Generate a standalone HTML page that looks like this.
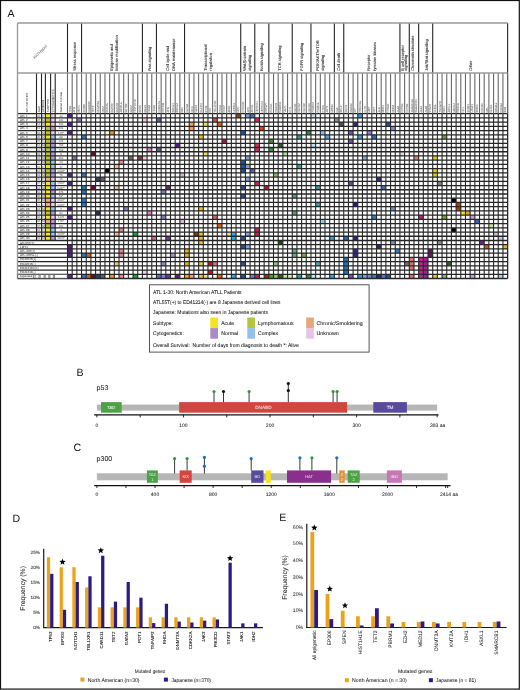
<!DOCTYPE html><html><head><meta charset="utf-8"><style>html,body{margin:0;padding:0;background:#fff;}svg{display:block;will-change:transform;text-rendering:geometricPrecision}</style></head><body>
<svg width="520" height="690" viewBox="0 0 520 690" font-family="Liberation Sans, sans-serif">
<rect x="0" y="0" width="520" height="690" fill="#fff"/>
<text x="7.6" y="16.9" font-size="10.6" fill="#111">A</text>
<rect x="45.40" y="113.70" width="5.20" height="4.23" fill="#f6e60c"/>
<rect x="50.60" y="113.70" width="4.60" height="4.23" fill="#f4c6ea"/>
<rect x="45.40" y="117.93" width="5.20" height="4.23" fill="#b4c42a"/>
<rect x="50.60" y="117.93" width="4.60" height="4.23" fill="#f4c6ea"/>
<rect x="45.40" y="122.15" width="5.20" height="4.23" fill="#f6e60c"/>
<rect x="50.60" y="122.15" width="4.60" height="4.23" fill="#f4c6ea"/>
<rect x="45.40" y="126.38" width="5.20" height="4.23" fill="#b4c42a"/>
<rect x="50.60" y="126.38" width="4.60" height="4.23" fill="#b698dc"/>
<rect x="45.40" y="130.60" width="5.20" height="4.23" fill="#b4c42a"/>
<rect x="50.60" y="130.60" width="4.60" height="4.23" fill="#f4c6ea"/>
<rect x="45.40" y="134.83" width="5.20" height="4.23" fill="#f6e60c"/>
<rect x="50.60" y="134.83" width="4.60" height="4.23" fill="#94c8f6"/>
<rect x="45.40" y="139.06" width="5.20" height="4.23" fill="#b4c42a"/>
<rect x="50.60" y="139.06" width="4.60" height="4.23" fill="#b698dc"/>
<rect x="45.40" y="143.28" width="5.20" height="4.23" fill="#b4c42a"/>
<rect x="50.60" y="143.28" width="4.60" height="4.23" fill="#b698dc"/>
<rect x="45.40" y="147.51" width="5.20" height="4.23" fill="#b4c42a"/>
<rect x="50.60" y="147.51" width="4.60" height="4.23" fill="#94c8f6"/>
<rect x="45.40" y="151.73" width="5.20" height="4.23" fill="#b4c42a"/>
<rect x="50.60" y="151.73" width="4.60" height="4.23" fill="#b698dc"/>
<rect x="45.40" y="155.96" width="5.20" height="4.23" fill="#b4c42a"/>
<rect x="50.60" y="155.96" width="4.60" height="4.23" fill="#b698dc"/>
<rect x="45.40" y="160.19" width="5.20" height="4.23" fill="#b4c42a"/>
<rect x="50.60" y="160.19" width="4.60" height="4.23" fill="#94c8f6"/>
<rect x="45.40" y="164.41" width="5.20" height="4.23" fill="#f6e60c"/>
<rect x="50.60" y="164.41" width="4.60" height="4.23" fill="#94c8f6"/>
<rect x="45.40" y="168.64" width="5.20" height="4.23" fill="#b4c42a"/>
<rect x="50.60" y="168.64" width="4.60" height="4.23" fill="#b698dc"/>
<rect x="45.40" y="172.86" width="5.20" height="4.23" fill="#b4c42a"/>
<rect x="50.60" y="172.86" width="4.60" height="4.23" fill="#b698dc"/>
<rect x="45.40" y="177.09" width="5.20" height="4.23" fill="#f0a884"/>
<rect x="50.60" y="177.09" width="4.60" height="4.23" fill="#f4c6ea"/>
<rect x="45.40" y="181.32" width="5.20" height="4.23" fill="#f6e60c"/>
<rect x="50.60" y="181.32" width="4.60" height="4.23" fill="#94c8f6"/>
<rect x="45.40" y="185.54" width="5.20" height="4.23" fill="#f6e60c"/>
<rect x="50.60" y="185.54" width="4.60" height="4.23" fill="#94c8f6"/>
<rect x="45.40" y="189.77" width="5.20" height="4.23" fill="#f6e60c"/>
<rect x="50.60" y="189.77" width="4.60" height="4.23" fill="#b698dc"/>
<rect x="45.40" y="193.99" width="5.20" height="4.23" fill="#f6e60c"/>
<rect x="50.60" y="193.99" width="4.60" height="4.23" fill="#94c8f6"/>
<rect x="45.40" y="198.22" width="5.20" height="4.23" fill="#f0a884"/>
<rect x="50.60" y="198.22" width="4.60" height="4.23" fill="#f4c6ea"/>
<rect x="45.40" y="202.45" width="5.20" height="4.23" fill="#f0a884"/>
<rect x="50.60" y="202.45" width="4.60" height="4.23" fill="#f4c6ea"/>
<rect x="45.40" y="206.67" width="5.20" height="4.23" fill="#f6e60c"/>
<rect x="50.60" y="206.67" width="4.60" height="4.23" fill="#94c8f6"/>
<rect x="45.40" y="210.90" width="5.20" height="4.23" fill="#b4c42a"/>
<rect x="50.60" y="210.90" width="4.60" height="4.23" fill="#b698dc"/>
<rect x="45.40" y="215.12" width="5.20" height="4.23" fill="#f6e60c"/>
<rect x="50.60" y="215.12" width="4.60" height="4.23" fill="#f4c6ea"/>
<rect x="45.40" y="219.35" width="5.20" height="4.23" fill="#f0a884"/>
<rect x="50.60" y="219.35" width="4.60" height="4.23" fill="#b698dc"/>
<rect x="45.40" y="223.58" width="5.20" height="4.23" fill="#b4c42a"/>
<rect x="50.60" y="223.58" width="4.60" height="4.23" fill="#b698dc"/>
<rect x="45.40" y="227.80" width="5.20" height="4.23" fill="#f6e60c"/>
<rect x="50.60" y="227.80" width="4.60" height="4.23" fill="#94c8f6"/>
<rect x="45.40" y="232.03" width="5.20" height="4.23" fill="#f6e60c"/>
<rect x="50.60" y="232.03" width="4.60" height="4.23" fill="#94c8f6"/>
<rect x="45.40" y="236.25" width="5.20" height="4.23" fill="#f6e60c"/>
<rect x="50.60" y="236.25" width="4.60" height="4.23" fill="#b698dc"/>
<rect x="67.50" y="113.70" width="4.68" height="4.23" fill="#53248a"/>
<rect x="76.86" y="117.93" width="4.68" height="4.23" fill="#8a6cc0"/>
<rect x="67.50" y="122.15" width="4.68" height="4.23" fill="#53248a"/>
<rect x="67.50" y="130.60" width="4.68" height="4.23" fill="#53248a"/>
<rect x="109.64" y="130.60" width="4.68" height="4.23" fill="#f0901e"/>
<rect x="81.55" y="134.83" width="4.68" height="4.23" fill="#2a78c8"/>
<rect x="90.91" y="151.73" width="4.68" height="4.23" fill="#6a0a30"/>
<rect x="72.18" y="155.96" width="4.68" height="4.23" fill="#9060b8"/>
<rect x="128.37" y="155.96" width="4.68" height="4.23" fill="#6e6a4a"/>
<rect x="137.73" y="155.96" width="4.68" height="4.23" fill="#94344c"/>
<rect x="119.00" y="160.19" width="4.68" height="4.23" fill="#e88898"/>
<rect x="114.32" y="164.41" width="4.68" height="4.23" fill="#f8c080"/>
<rect x="142.41" y="117.93" width="4.68" height="4.23" fill="#f8c8e0"/>
<rect x="156.46" y="117.93" width="4.68" height="4.23" fill="#5060a8"/>
<rect x="212.64" y="117.93" width="4.68" height="4.23" fill="#d05050"/>
<rect x="189.23" y="122.15" width="4.68" height="4.23" fill="#f0a060"/>
<rect x="189.23" y="126.38" width="4.68" height="4.23" fill="#f0a060"/>
<rect x="203.28" y="122.15" width="4.68" height="4.23" fill="#f0e060"/>
<rect x="198.60" y="134.83" width="4.68" height="4.23" fill="#f0c020"/>
<rect x="175.19" y="143.28" width="4.68" height="4.23" fill="#5a1a8a"/>
<rect x="147.09" y="147.51" width="4.68" height="4.23" fill="#e080b8"/>
<rect x="156.46" y="147.51" width="4.68" height="4.23" fill="#5060a8"/>
<rect x="203.28" y="151.73" width="4.68" height="4.23" fill="#f0e060"/>
<rect x="142.41" y="155.96" width="4.68" height="4.23" fill="#f8c8e0"/>
<rect x="236.05" y="113.70" width="4.68" height="4.23" fill="#a04010"/>
<rect x="245.42" y="113.70" width="4.68" height="4.23" fill="#7aa0e0"/>
<rect x="250.10" y="113.70" width="4.68" height="4.23" fill="#5070c0"/>
<rect x="254.78" y="117.93" width="4.68" height="4.23" fill="#d0305a"/>
<rect x="217.32" y="122.15" width="4.68" height="4.23" fill="#e06010"/>
<rect x="259.46" y="126.38" width="4.68" height="4.23" fill="#e04010"/>
<rect x="240.73" y="130.60" width="4.68" height="4.23" fill="#2050b0"/>
<rect x="222.01" y="139.06" width="4.68" height="4.23" fill="#b01040"/>
<rect x="268.83" y="139.06" width="4.68" height="4.23" fill="#4a8a30"/>
<rect x="254.78" y="143.28" width="4.68" height="4.23" fill="#d0305a"/>
<rect x="278.19" y="143.28" width="4.68" height="4.23" fill="#2a5a20"/>
<rect x="254.78" y="147.51" width="4.68" height="4.23" fill="#d0305a"/>
<rect x="268.83" y="147.51" width="4.68" height="4.23" fill="#4a8a30"/>
<rect x="282.87" y="151.73" width="4.68" height="4.23" fill="#b0e0a0"/>
<rect x="245.42" y="155.96" width="4.68" height="4.23" fill="#7aa0e0"/>
<rect x="240.73" y="160.19" width="4.68" height="4.23" fill="#2050b0"/>
<rect x="287.55" y="160.19" width="4.68" height="4.23" fill="#d8f0d0"/>
<rect x="240.73" y="164.41" width="4.68" height="4.23" fill="#2050b0"/>
<rect x="245.42" y="164.41" width="4.68" height="4.23" fill="#7aa0e0"/>
<rect x="310.96" y="113.70" width="4.68" height="4.23" fill="#c0e0f8"/>
<rect x="357.78" y="113.70" width="4.68" height="4.23" fill="#30a0e0"/>
<rect x="334.37" y="117.93" width="4.68" height="4.23" fill="#909090"/>
<rect x="339.06" y="122.15" width="4.68" height="4.23" fill="#505050"/>
<rect x="353.10" y="122.15" width="4.68" height="4.23" fill="#302080"/>
<rect x="306.28" y="130.60" width="4.68" height="4.23" fill="#209040"/>
<rect x="320.33" y="130.60" width="4.68" height="4.23" fill="#90c0f0"/>
<rect x="348.42" y="130.60" width="4.68" height="4.23" fill="#7050b0"/>
<rect x="296.92" y="134.83" width="4.68" height="4.23" fill="#30a090"/>
<rect x="325.01" y="134.83" width="4.68" height="4.23" fill="#50a8e0"/>
<rect x="357.78" y="134.83" width="4.68" height="4.23" fill="#30a0e0"/>
<rect x="348.42" y="139.06" width="4.68" height="4.23" fill="#7050b0"/>
<rect x="310.96" y="143.28" width="4.68" height="4.23" fill="#c0e0f8"/>
<rect x="362.47" y="155.96" width="4.68" height="4.23" fill="#80a0e0"/>
<rect x="296.92" y="164.41" width="4.68" height="4.23" fill="#30a090"/>
<rect x="385.88" y="122.15" width="4.68" height="4.23" fill="#2050a0"/>
<rect x="390.56" y="126.38" width="4.68" height="4.23" fill="#8090c0"/>
<rect x="367.15" y="130.60" width="4.68" height="4.23" fill="#9080d0"/>
<rect x="371.83" y="134.83" width="4.68" height="4.23" fill="#3070c0"/>
<rect x="442.06" y="134.83" width="4.68" height="4.23" fill="#70a030"/>
<rect x="399.92" y="151.73" width="4.68" height="4.23" fill="#e0e0e0"/>
<rect x="413.97" y="155.96" width="4.68" height="4.23" fill="#f08050"/>
<rect x="432.70" y="155.96" width="4.68" height="4.23" fill="#e0d010"/>
<rect x="104.96" y="168.64" width="4.68" height="4.23" fill="#000000"/>
<rect x="67.50" y="172.86" width="4.68" height="4.23" fill="#53248a"/>
<rect x="81.55" y="172.86" width="4.68" height="4.23" fill="#2a78c8"/>
<rect x="95.59" y="177.09" width="4.68" height="4.23" fill="#304060"/>
<rect x="100.27" y="177.09" width="4.68" height="4.23" fill="#606060"/>
<rect x="67.50" y="181.32" width="4.68" height="4.23" fill="#53248a"/>
<rect x="81.55" y="185.54" width="4.68" height="4.23" fill="#2a78c8"/>
<rect x="90.91" y="185.54" width="4.68" height="4.23" fill="#6a0a30"/>
<rect x="114.32" y="185.54" width="4.68" height="4.23" fill="#f8c080"/>
<rect x="81.55" y="189.77" width="4.68" height="4.23" fill="#2a78c8"/>
<rect x="81.55" y="198.22" width="4.68" height="4.23" fill="#2a78c8"/>
<rect x="81.55" y="202.45" width="4.68" height="4.23" fill="#2a78c8"/>
<rect x="67.50" y="206.67" width="4.68" height="4.23" fill="#53248a"/>
<rect x="123.68" y="206.67" width="4.68" height="4.23" fill="#8080d0"/>
<rect x="95.59" y="210.90" width="4.68" height="4.23" fill="#203050"/>
<rect x="67.50" y="215.12" width="4.68" height="4.23" fill="#53248a"/>
<rect x="179.87" y="172.86" width="4.68" height="4.23" fill="#e0b0e0"/>
<rect x="165.82" y="185.54" width="4.68" height="4.23" fill="#702080"/>
<rect x="161.14" y="189.77" width="4.68" height="4.23" fill="#7080c8"/>
<rect x="198.60" y="206.67" width="4.68" height="4.23" fill="#f0c020"/>
<rect x="147.09" y="210.90" width="4.68" height="4.23" fill="#e080c0"/>
<rect x="161.14" y="215.12" width="4.68" height="4.23" fill="#7080c8"/>
<rect x="212.64" y="215.12" width="4.68" height="4.23" fill="#e06060"/>
<rect x="179.87" y="219.35" width="4.68" height="4.23" fill="#e0b0e0"/>
<rect x="240.73" y="168.64" width="4.68" height="4.23" fill="#2050a0"/>
<rect x="250.10" y="168.64" width="4.68" height="4.23" fill="#5060c0"/>
<rect x="273.51" y="172.86" width="4.68" height="4.23" fill="#80c060"/>
<rect x="245.42" y="177.09" width="4.68" height="4.23" fill="#80a8e8"/>
<rect x="254.78" y="181.32" width="4.68" height="4.23" fill="#d02050"/>
<rect x="240.73" y="185.54" width="4.68" height="4.23" fill="#2050a0"/>
<rect x="264.14" y="185.54" width="4.68" height="4.23" fill="#d01010"/>
<rect x="240.73" y="193.99" width="4.68" height="4.23" fill="#2050a0"/>
<rect x="348.42" y="181.32" width="4.68" height="4.23" fill="#7040b0"/>
<rect x="315.65" y="185.54" width="4.68" height="4.23" fill="#30a0a0"/>
<rect x="292.24" y="193.99" width="4.68" height="4.23" fill="#50a070"/>
<rect x="315.65" y="202.45" width="4.68" height="4.23" fill="#30a0a0"/>
<rect x="353.10" y="202.45" width="4.68" height="4.23" fill="#201880"/>
<rect x="292.24" y="210.90" width="4.68" height="4.23" fill="#50a070"/>
<rect x="320.33" y="219.35" width="4.68" height="4.23" fill="#90c8f8"/>
<rect x="432.70" y="168.64" width="4.68" height="4.23" fill="#e0d010"/>
<rect x="432.70" y="172.86" width="4.68" height="4.23" fill="#e0d010"/>
<rect x="376.51" y="177.09" width="4.68" height="4.23" fill="#302090"/>
<rect x="437.38" y="181.32" width="4.68" height="4.23" fill="#808080"/>
<rect x="381.19" y="185.54" width="4.68" height="4.23" fill="#4070c0"/>
<rect x="399.92" y="202.45" width="4.68" height="4.23" fill="#e0e0e0"/>
<rect x="390.56" y="206.67" width="4.68" height="4.23" fill="#8090c0"/>
<rect x="371.83" y="215.12" width="4.68" height="4.23" fill="#3080d0"/>
<rect x="418.65" y="215.12" width="4.68" height="4.23" fill="#c01880"/>
<rect x="442.06" y="215.12" width="4.68" height="4.23" fill="#70a030"/>
<rect x="451.42" y="198.22" width="4.68" height="4.23" fill="#000000"/>
<rect x="456.11" y="202.45" width="4.68" height="4.23" fill="#a04010"/>
<rect x="456.11" y="206.67" width="4.68" height="4.23" fill="#a04010"/>
<rect x="460.79" y="210.90" width="4.68" height="4.23" fill="#f0e020"/>
<rect x="465.47" y="210.90" width="4.68" height="4.23" fill="#f0a020"/>
<rect x="470.15" y="215.12" width="4.68" height="4.23" fill="#c0a0e0"/>
<rect x="474.83" y="219.35" width="4.68" height="4.23" fill="#3060c0"/>
<rect x="119.00" y="227.80" width="4.68" height="4.23" fill="#e88090"/>
<rect x="114.32" y="232.03" width="4.68" height="4.23" fill="#f8c080"/>
<rect x="133.05" y="232.03" width="4.68" height="4.23" fill="#20a040"/>
<rect x="67.50" y="244.71" width="4.68" height="4.23" fill="#53248a"/>
<rect x="67.50" y="248.93" width="4.68" height="4.23" fill="#53248a"/>
<rect x="119.00" y="248.93" width="4.68" height="4.23" fill="#e88090"/>
<rect x="67.50" y="253.16" width="4.68" height="4.23" fill="#53248a"/>
<rect x="81.55" y="253.16" width="4.68" height="4.23" fill="#2a78c8"/>
<rect x="86.23" y="253.16" width="4.68" height="4.23" fill="#e06010"/>
<rect x="119.00" y="253.16" width="4.68" height="4.23" fill="#e88090"/>
<rect x="114.32" y="261.61" width="4.68" height="4.23" fill="#f8c080"/>
<rect x="67.50" y="274.29" width="4.68" height="4.23" fill="#53248a"/>
<rect x="81.55" y="274.29" width="4.68" height="4.23" fill="#2a78c8"/>
<rect x="86.23" y="274.29" width="4.68" height="4.23" fill="#e06010"/>
<rect x="90.91" y="274.29" width="4.68" height="4.23" fill="#6a0a30"/>
<rect x="95.59" y="274.29" width="4.68" height="4.23" fill="#304060"/>
<rect x="100.27" y="274.29" width="4.68" height="4.23" fill="#606060"/>
<rect x="109.64" y="274.29" width="4.68" height="4.23" fill="#f0a020"/>
<rect x="119.00" y="274.29" width="4.68" height="4.23" fill="#e88090"/>
<rect x="133.05" y="274.29" width="4.68" height="4.23" fill="#20a040"/>
<rect x="193.91" y="232.03" width="4.68" height="4.23" fill="#903010"/>
<rect x="198.60" y="232.03" width="4.68" height="4.23" fill="#f0c030"/>
<rect x="151.78" y="236.25" width="4.68" height="4.23" fill="#e060a0"/>
<rect x="165.82" y="236.25" width="4.68" height="4.23" fill="#8030a0"/>
<rect x="198.60" y="236.25" width="4.68" height="4.23" fill="#f0c030"/>
<rect x="198.60" y="240.48" width="4.68" height="4.23" fill="#f0c030"/>
<rect x="184.55" y="248.93" width="4.68" height="4.23" fill="#f0b010"/>
<rect x="170.50" y="253.16" width="4.68" height="4.23" fill="#b090d8"/>
<rect x="184.55" y="253.16" width="4.68" height="4.23" fill="#f0b010"/>
<rect x="161.14" y="261.61" width="4.68" height="4.23" fill="#8088d8"/>
<rect x="184.55" y="261.61" width="4.68" height="4.23" fill="#f0b010"/>
<rect x="198.60" y="261.61" width="4.68" height="4.23" fill="#f0c840"/>
<rect x="207.96" y="261.61" width="4.68" height="4.23" fill="#d01010"/>
<rect x="212.64" y="261.61" width="4.68" height="4.23" fill="#e07070"/>
<rect x="142.41" y="270.06" width="4.68" height="4.23" fill="#f8c8e0"/>
<rect x="207.96" y="270.06" width="4.68" height="4.23" fill="#d01010"/>
<rect x="156.46" y="274.29" width="4.68" height="4.23" fill="#6070c0"/>
<rect x="161.14" y="274.29" width="4.68" height="4.23" fill="#8088d8"/>
<rect x="165.82" y="274.29" width="4.68" height="4.23" fill="#8030a0"/>
<rect x="175.19" y="274.29" width="4.68" height="4.23" fill="#5a1a8a"/>
<rect x="184.55" y="274.29" width="4.68" height="4.23" fill="#f0b010"/>
<rect x="189.23" y="274.29" width="4.68" height="4.23" fill="#f0a070"/>
<rect x="198.60" y="274.29" width="4.68" height="4.23" fill="#f0c840"/>
<rect x="203.28" y="274.29" width="4.68" height="4.23" fill="#f0e080"/>
<rect x="217.32" y="223.58" width="4.68" height="4.23" fill="#e06010"/>
<rect x="254.78" y="227.80" width="4.68" height="4.23" fill="#d02050"/>
<rect x="226.69" y="232.03" width="4.68" height="4.23" fill="#f8e090"/>
<rect x="231.37" y="232.03" width="4.68" height="4.23" fill="#30a8e8"/>
<rect x="245.42" y="232.03" width="4.68" height="4.23" fill="#80a8e8"/>
<rect x="254.78" y="232.03" width="4.68" height="4.23" fill="#d02050"/>
<rect x="231.37" y="236.25" width="4.68" height="4.23" fill="#30a8e8"/>
<rect x="240.73" y="236.25" width="4.68" height="4.23" fill="#2050a0"/>
<rect x="278.19" y="240.48" width="4.68" height="4.23" fill="#204a10"/>
<rect x="240.73" y="244.71" width="4.68" height="4.23" fill="#2050a0"/>
<rect x="245.42" y="244.71" width="4.68" height="4.23" fill="#80a8e8"/>
<rect x="240.73" y="261.61" width="4.68" height="4.23" fill="#2050a0"/>
<rect x="273.51" y="261.61" width="4.68" height="4.23" fill="#90c870"/>
<rect x="217.32" y="274.29" width="4.68" height="4.23" fill="#e06010"/>
<rect x="231.37" y="274.29" width="4.68" height="4.23" fill="#30a8e8"/>
<rect x="240.73" y="274.29" width="4.68" height="4.23" fill="#2050a0"/>
<rect x="250.10" y="274.29" width="4.68" height="4.23" fill="#7080d0"/>
<rect x="254.78" y="274.29" width="4.68" height="4.23" fill="#d02050"/>
<rect x="264.14" y="274.29" width="4.68" height="4.23" fill="#d01010"/>
<rect x="268.83" y="274.29" width="4.68" height="4.23" fill="#50a030"/>
<rect x="273.51" y="274.29" width="4.68" height="4.23" fill="#90c870"/>
<rect x="278.19" y="274.29" width="4.68" height="4.23" fill="#2a5a20"/>
<rect x="282.87" y="274.29" width="4.68" height="4.23" fill="#c0e8a0"/>
<rect x="287.55" y="274.29" width="4.68" height="4.23" fill="#d0f0c0"/>
<rect x="329.69" y="236.25" width="4.68" height="4.23" fill="#30a8e8"/>
<rect x="343.74" y="236.25" width="4.68" height="4.23" fill="#2070c8"/>
<rect x="353.10" y="236.25" width="4.68" height="4.23" fill="#302090"/>
<rect x="292.24" y="248.93" width="4.68" height="4.23" fill="#60b080"/>
<rect x="353.10" y="248.93" width="4.68" height="4.23" fill="#302090"/>
<rect x="292.24" y="253.16" width="4.68" height="4.23" fill="#60b080"/>
<rect x="301.60" y="253.16" width="4.68" height="4.23" fill="#80b030"/>
<rect x="353.10" y="253.16" width="4.68" height="4.23" fill="#302090"/>
<rect x="343.74" y="257.38" width="4.68" height="4.23" fill="#2070c8"/>
<rect x="315.65" y="261.61" width="4.68" height="4.23" fill="#40b0b0"/>
<rect x="343.74" y="261.61" width="4.68" height="4.23" fill="#2070c8"/>
<rect x="343.74" y="265.84" width="4.68" height="4.23" fill="#2070c8"/>
<rect x="343.74" y="270.06" width="4.68" height="4.23" fill="#2070c8"/>
<rect x="296.92" y="274.29" width="4.68" height="4.23" fill="#30a090"/>
<rect x="306.28" y="274.29" width="4.68" height="4.23" fill="#209040"/>
<rect x="310.96" y="274.29" width="4.68" height="4.23" fill="#c8e4f8"/>
<rect x="329.69" y="274.29" width="4.68" height="4.23" fill="#30a8e8"/>
<rect x="348.42" y="274.29" width="4.68" height="4.23" fill="#7050b0"/>
<rect x="357.78" y="274.29" width="4.68" height="4.23" fill="#30a0e0"/>
<rect x="362.47" y="274.29" width="4.68" height="4.23" fill="#80a0e0"/>
<rect x="390.56" y="240.48" width="4.68" height="4.23" fill="#8098c8"/>
<rect x="437.38" y="240.48" width="4.68" height="4.23" fill="#909090"/>
<rect x="376.51" y="244.71" width="4.68" height="4.23" fill="#302090"/>
<rect x="395.24" y="248.93" width="4.68" height="4.23" fill="#3080d0"/>
<rect x="428.01" y="248.93" width="4.68" height="4.23" fill="#701070"/>
<rect x="428.01" y="253.16" width="4.68" height="4.23" fill="#701070"/>
<rect x="409.29" y="257.38" width="4.68" height="4.23" fill="#e07070"/>
<rect x="409.29" y="261.61" width="4.68" height="4.23" fill="#e07070"/>
<rect x="409.29" y="265.84" width="4.68" height="4.23" fill="#e07070"/>
<rect x="418.65" y="257.38" width="4.68" height="4.23" fill="#c02890"/>
<rect x="418.65" y="261.61" width="4.68" height="4.23" fill="#c02890"/>
<rect x="418.65" y="265.84" width="4.68" height="4.23" fill="#c02890"/>
<rect x="418.65" y="270.06" width="4.68" height="4.23" fill="#c02890"/>
<rect x="423.33" y="257.38" width="4.68" height="4.23" fill="#a02090"/>
<rect x="423.33" y="261.61" width="4.68" height="4.23" fill="#a02090"/>
<rect x="423.33" y="265.84" width="4.68" height="4.23" fill="#a02090"/>
<rect x="423.33" y="270.06" width="4.68" height="4.23" fill="#a02090"/>
<rect x="404.60" y="261.61" width="4.68" height="4.23" fill="#707070"/>
<rect x="367.15" y="274.29" width="4.68" height="4.23" fill="#8080d8"/>
<rect x="371.83" y="274.29" width="4.68" height="4.23" fill="#3080d0"/>
<rect x="376.51" y="274.29" width="4.68" height="4.23" fill="#302090"/>
<rect x="381.19" y="274.29" width="4.68" height="4.23" fill="#6070c8"/>
<rect x="385.88" y="274.29" width="4.68" height="4.23" fill="#2050a0"/>
<rect x="409.29" y="274.29" width="4.68" height="4.23" fill="#e07070"/>
<rect x="418.65" y="274.29" width="4.68" height="4.23" fill="#c02890"/>
<rect x="423.33" y="274.29" width="4.68" height="4.23" fill="#a02090"/>
<rect x="432.70" y="274.29" width="4.68" height="4.23" fill="#e0d010"/>
<rect x="488.88" y="223.58" width="4.68" height="4.23" fill="#c0e8a8"/>
<rect x="451.42" y="227.80" width="4.68" height="4.23" fill="#000000"/>
<rect x="493.56" y="232.03" width="4.68" height="4.23" fill="#c8c8c8"/>
<rect x="498.24" y="236.25" width="4.68" height="4.23" fill="#b0d0f0"/>
<rect x="479.52" y="240.48" width="4.68" height="4.23" fill="#7020a0"/>
<rect x="484.20" y="244.71" width="4.68" height="4.23" fill="#e05010"/>
<rect x="502.93" y="244.71" width="4.68" height="4.23" fill="#f0b020"/>
<rect x="446.74" y="261.61" width="4.68" height="4.23" fill="#306020"/>
<rect x="442.06" y="274.29" width="4.68" height="4.23" fill="#80c040"/>
<rect x="470.15" y="274.29" width="4.68" height="4.23" fill="#c0a0e0"/>
<rect x="498.24" y="274.29" width="4.68" height="4.23" fill="#b0d0f0"/>
<g stroke="#262626" stroke-width="1.1" fill="none">
<line x1="67.50" y1="23.00" x2="67.50" y2="73.00"/>
<line x1="81.55" y1="23.00" x2="81.55" y2="73.00"/>
<line x1="142.41" y1="23.00" x2="142.41" y2="73.00"/>
<line x1="156.46" y1="23.00" x2="156.46" y2="73.00"/>
<line x1="184.55" y1="23.00" x2="184.55" y2="73.00"/>
<line x1="240.73" y1="23.00" x2="240.73" y2="73.00"/>
<line x1="254.78" y1="23.00" x2="254.78" y2="73.00"/>
<line x1="268.83" y1="23.00" x2="268.83" y2="73.00"/>
<line x1="292.24" y1="23.00" x2="292.24" y2="73.00"/>
<line x1="310.96" y1="23.00" x2="310.96" y2="73.00"/>
<line x1="334.37" y1="23.00" x2="334.37" y2="73.00"/>
<line x1="343.74" y1="23.00" x2="343.74" y2="73.00"/>
<line x1="399.92" y1="23.00" x2="399.92" y2="73.00"/>
<line x1="409.29" y1="23.00" x2="409.29" y2="73.00"/>
<line x1="418.65" y1="23.00" x2="418.65" y2="73.00"/>
<line x1="432.70" y1="23.00" x2="432.70" y2="73.00"/>
<line x1="507.61" y1="23.00" x2="507.61" y2="278.51"/>
<line x1="67.50" y1="113.70" x2="67.50" y2="278.51"/>
<line x1="72.18" y1="113.70" x2="72.18" y2="278.51"/>
<line x1="76.86" y1="113.70" x2="76.86" y2="278.51"/>
<line x1="81.55" y1="113.70" x2="81.55" y2="278.51"/>
<line x1="86.23" y1="113.70" x2="86.23" y2="278.51"/>
<line x1="90.91" y1="113.70" x2="90.91" y2="278.51"/>
<line x1="95.59" y1="113.70" x2="95.59" y2="278.51"/>
<line x1="100.27" y1="113.70" x2="100.27" y2="278.51"/>
<line x1="104.96" y1="113.70" x2="104.96" y2="278.51"/>
<line x1="109.64" y1="113.70" x2="109.64" y2="278.51"/>
<line x1="114.32" y1="113.70" x2="114.32" y2="278.51"/>
<line x1="119.00" y1="113.70" x2="119.00" y2="278.51"/>
<line x1="123.68" y1="113.70" x2="123.68" y2="278.51"/>
<line x1="128.37" y1="113.70" x2="128.37" y2="278.51"/>
<line x1="133.05" y1="113.70" x2="133.05" y2="278.51"/>
<line x1="137.73" y1="113.70" x2="137.73" y2="278.51"/>
<line x1="142.41" y1="113.70" x2="142.41" y2="278.51"/>
<line x1="147.09" y1="113.70" x2="147.09" y2="278.51"/>
<line x1="151.78" y1="113.70" x2="151.78" y2="278.51"/>
<line x1="156.46" y1="113.70" x2="156.46" y2="278.51"/>
<line x1="161.14" y1="113.70" x2="161.14" y2="278.51"/>
<line x1="165.82" y1="113.70" x2="165.82" y2="278.51"/>
<line x1="170.50" y1="113.70" x2="170.50" y2="278.51"/>
<line x1="175.19" y1="113.70" x2="175.19" y2="278.51"/>
<line x1="179.87" y1="113.70" x2="179.87" y2="278.51"/>
<line x1="184.55" y1="113.70" x2="184.55" y2="278.51"/>
<line x1="189.23" y1="113.70" x2="189.23" y2="278.51"/>
<line x1="193.91" y1="113.70" x2="193.91" y2="278.51"/>
<line x1="198.60" y1="113.70" x2="198.60" y2="278.51"/>
<line x1="203.28" y1="113.70" x2="203.28" y2="278.51"/>
<line x1="207.96" y1="113.70" x2="207.96" y2="278.51"/>
<line x1="212.64" y1="113.70" x2="212.64" y2="278.51"/>
<line x1="217.32" y1="113.70" x2="217.32" y2="278.51"/>
<line x1="222.01" y1="113.70" x2="222.01" y2="278.51"/>
<line x1="226.69" y1="113.70" x2="226.69" y2="278.51"/>
<line x1="231.37" y1="113.70" x2="231.37" y2="278.51"/>
<line x1="236.05" y1="113.70" x2="236.05" y2="278.51"/>
<line x1="240.73" y1="113.70" x2="240.73" y2="278.51"/>
<line x1="245.42" y1="113.70" x2="245.42" y2="278.51"/>
<line x1="250.10" y1="113.70" x2="250.10" y2="278.51"/>
<line x1="254.78" y1="113.70" x2="254.78" y2="278.51"/>
<line x1="259.46" y1="113.70" x2="259.46" y2="278.51"/>
<line x1="264.14" y1="113.70" x2="264.14" y2="278.51"/>
<line x1="268.83" y1="113.70" x2="268.83" y2="278.51"/>
<line x1="273.51" y1="113.70" x2="273.51" y2="278.51"/>
<line x1="278.19" y1="113.70" x2="278.19" y2="278.51"/>
<line x1="282.87" y1="113.70" x2="282.87" y2="278.51"/>
<line x1="287.55" y1="113.70" x2="287.55" y2="278.51"/>
<line x1="292.24" y1="113.70" x2="292.24" y2="278.51"/>
<line x1="296.92" y1="113.70" x2="296.92" y2="278.51"/>
<line x1="301.60" y1="113.70" x2="301.60" y2="278.51"/>
<line x1="306.28" y1="113.70" x2="306.28" y2="278.51"/>
<line x1="310.96" y1="113.70" x2="310.96" y2="278.51"/>
<line x1="315.65" y1="113.70" x2="315.65" y2="278.51"/>
<line x1="320.33" y1="113.70" x2="320.33" y2="278.51"/>
<line x1="325.01" y1="113.70" x2="325.01" y2="278.51"/>
<line x1="329.69" y1="113.70" x2="329.69" y2="278.51"/>
<line x1="334.37" y1="113.70" x2="334.37" y2="278.51"/>
<line x1="339.06" y1="113.70" x2="339.06" y2="278.51"/>
<line x1="343.74" y1="113.70" x2="343.74" y2="278.51"/>
<line x1="348.42" y1="113.70" x2="348.42" y2="278.51"/>
<line x1="353.10" y1="113.70" x2="353.10" y2="278.51"/>
<line x1="357.78" y1="113.70" x2="357.78" y2="278.51"/>
<line x1="362.47" y1="113.70" x2="362.47" y2="278.51"/>
<line x1="367.15" y1="113.70" x2="367.15" y2="278.51"/>
<line x1="371.83" y1="113.70" x2="371.83" y2="278.51"/>
<line x1="376.51" y1="113.70" x2="376.51" y2="278.51"/>
<line x1="381.19" y1="113.70" x2="381.19" y2="278.51"/>
<line x1="385.88" y1="113.70" x2="385.88" y2="278.51"/>
<line x1="390.56" y1="113.70" x2="390.56" y2="278.51"/>
<line x1="395.24" y1="113.70" x2="395.24" y2="278.51"/>
<line x1="399.92" y1="113.70" x2="399.92" y2="278.51"/>
<line x1="404.60" y1="113.70" x2="404.60" y2="278.51"/>
<line x1="409.29" y1="113.70" x2="409.29" y2="278.51"/>
<line x1="413.97" y1="113.70" x2="413.97" y2="278.51"/>
<line x1="418.65" y1="113.70" x2="418.65" y2="278.51"/>
<line x1="423.33" y1="113.70" x2="423.33" y2="278.51"/>
<line x1="428.01" y1="113.70" x2="428.01" y2="278.51"/>
<line x1="432.70" y1="113.70" x2="432.70" y2="278.51"/>
<line x1="437.38" y1="113.70" x2="437.38" y2="278.51"/>
<line x1="442.06" y1="113.70" x2="442.06" y2="278.51"/>
<line x1="446.74" y1="113.70" x2="446.74" y2="278.51"/>
<line x1="451.42" y1="113.70" x2="451.42" y2="278.51"/>
<line x1="456.11" y1="113.70" x2="456.11" y2="278.51"/>
<line x1="460.79" y1="113.70" x2="460.79" y2="278.51"/>
<line x1="465.47" y1="113.70" x2="465.47" y2="278.51"/>
<line x1="470.15" y1="113.70" x2="470.15" y2="278.51"/>
<line x1="474.83" y1="113.70" x2="474.83" y2="278.51"/>
<line x1="479.52" y1="113.70" x2="479.52" y2="278.51"/>
<line x1="484.20" y1="113.70" x2="484.20" y2="278.51"/>
<line x1="488.88" y1="113.70" x2="488.88" y2="278.51"/>
<line x1="493.56" y1="113.70" x2="493.56" y2="278.51"/>
<line x1="498.24" y1="113.70" x2="498.24" y2="278.51"/>
<line x1="502.93" y1="113.70" x2="502.93" y2="278.51"/>
<line x1="507.61" y1="113.70" x2="507.61" y2="278.51"/>
<line x1="36.50" y1="73.00" x2="36.50" y2="240.48"/>
<line x1="41.50" y1="73.00" x2="41.50" y2="240.48"/>
<line x1="45.40" y1="73.00" x2="45.40" y2="240.48"/>
<line x1="50.60" y1="73.00" x2="50.60" y2="240.48"/>
<line x1="55.20" y1="73.00" x2="55.20" y2="240.48"/>
<line x1="17.50" y1="113.70" x2="507.61" y2="113.70" stroke-width="1.30"/>
<line x1="17.50" y1="117.93" x2="507.61" y2="117.93" stroke-width="1.30"/>
<line x1="17.50" y1="122.15" x2="507.61" y2="122.15" stroke-width="1.30"/>
<line x1="17.50" y1="126.38" x2="507.61" y2="126.38" stroke-width="1.30"/>
<line x1="17.50" y1="130.60" x2="507.61" y2="130.60" stroke-width="1.30"/>
<line x1="17.50" y1="134.83" x2="507.61" y2="134.83" stroke-width="1.30"/>
<line x1="17.50" y1="139.06" x2="507.61" y2="139.06" stroke-width="1.30"/>
<line x1="17.50" y1="143.28" x2="507.61" y2="143.28" stroke-width="1.30"/>
<line x1="17.50" y1="147.51" x2="507.61" y2="147.51" stroke-width="1.30"/>
<line x1="17.50" y1="151.73" x2="507.61" y2="151.73" stroke-width="1.30"/>
<line x1="17.50" y1="155.96" x2="507.61" y2="155.96" stroke-width="1.30"/>
<line x1="17.50" y1="160.19" x2="507.61" y2="160.19" stroke-width="1.30"/>
<line x1="17.50" y1="164.41" x2="507.61" y2="164.41" stroke-width="1.30"/>
<line x1="17.50" y1="168.64" x2="507.61" y2="168.64" stroke-width="1.30"/>
<line x1="17.50" y1="172.86" x2="507.61" y2="172.86" stroke-width="1.30"/>
<line x1="17.50" y1="177.09" x2="507.61" y2="177.09" stroke-width="1.30"/>
<line x1="17.50" y1="181.32" x2="507.61" y2="181.32" stroke-width="1.30"/>
<line x1="17.50" y1="185.54" x2="507.61" y2="185.54" stroke-width="1.30"/>
<line x1="17.50" y1="189.77" x2="507.61" y2="189.77" stroke-width="1.30"/>
<line x1="17.50" y1="193.99" x2="507.61" y2="193.99" stroke-width="1.30"/>
<line x1="17.50" y1="198.22" x2="507.61" y2="198.22" stroke-width="1.30"/>
<line x1="17.50" y1="202.45" x2="507.61" y2="202.45" stroke-width="1.30"/>
<line x1="17.50" y1="206.67" x2="507.61" y2="206.67" stroke-width="1.30"/>
<line x1="17.50" y1="210.90" x2="507.61" y2="210.90" stroke-width="1.30"/>
<line x1="17.50" y1="215.12" x2="507.61" y2="215.12" stroke-width="1.30"/>
<line x1="17.50" y1="219.35" x2="507.61" y2="219.35" stroke-width="1.30"/>
<line x1="17.50" y1="223.58" x2="507.61" y2="223.58" stroke-width="1.30"/>
<line x1="17.50" y1="227.80" x2="507.61" y2="227.80" stroke-width="1.30"/>
<line x1="17.50" y1="232.03" x2="507.61" y2="232.03" stroke-width="1.30"/>
<line x1="17.50" y1="236.25" x2="507.61" y2="236.25" stroke-width="1.30"/>
<line x1="17.50" y1="240.48" x2="507.61" y2="240.48" stroke-width="1.30"/>
<line x1="17.50" y1="244.71" x2="507.61" y2="244.71" stroke-width="1.30"/>
<line x1="17.50" y1="248.93" x2="507.61" y2="248.93" stroke-width="1.30"/>
<line x1="17.50" y1="253.16" x2="507.61" y2="253.16" stroke-width="1.30"/>
<line x1="17.50" y1="257.38" x2="507.61" y2="257.38" stroke-width="1.30"/>
<line x1="17.50" y1="261.61" x2="507.61" y2="261.61" stroke-width="1.30"/>
<line x1="17.50" y1="265.84" x2="507.61" y2="265.84" stroke-width="1.30"/>
<line x1="17.50" y1="270.06" x2="507.61" y2="270.06" stroke-width="1.30"/>
<line x1="17.50" y1="274.29" x2="507.61" y2="274.29" stroke-width="1.30"/>
<line x1="17.50" y1="278.51" x2="507.61" y2="278.51" stroke-width="1.30"/>
</g>
<g stroke="#6a6a6a" stroke-width="1.1" fill="none">
<line x1="67.50" y1="73.00" x2="67.50" y2="113.70"/>
<line x1="72.18" y1="73.00" x2="72.18" y2="113.70"/>
<line x1="76.86" y1="73.00" x2="76.86" y2="113.70"/>
<line x1="81.55" y1="73.00" x2="81.55" y2="113.70"/>
<line x1="86.23" y1="73.00" x2="86.23" y2="113.70"/>
<line x1="90.91" y1="73.00" x2="90.91" y2="113.70"/>
<line x1="95.59" y1="73.00" x2="95.59" y2="113.70"/>
<line x1="100.27" y1="73.00" x2="100.27" y2="113.70"/>
<line x1="104.96" y1="73.00" x2="104.96" y2="113.70"/>
<line x1="109.64" y1="73.00" x2="109.64" y2="113.70"/>
<line x1="114.32" y1="73.00" x2="114.32" y2="113.70"/>
<line x1="119.00" y1="73.00" x2="119.00" y2="113.70"/>
<line x1="123.68" y1="73.00" x2="123.68" y2="113.70"/>
<line x1="128.37" y1="73.00" x2="128.37" y2="113.70"/>
<line x1="133.05" y1="73.00" x2="133.05" y2="113.70"/>
<line x1="137.73" y1="73.00" x2="137.73" y2="113.70"/>
<line x1="142.41" y1="73.00" x2="142.41" y2="113.70"/>
<line x1="147.09" y1="73.00" x2="147.09" y2="113.70"/>
<line x1="151.78" y1="73.00" x2="151.78" y2="113.70"/>
<line x1="156.46" y1="73.00" x2="156.46" y2="113.70"/>
<line x1="161.14" y1="73.00" x2="161.14" y2="113.70"/>
<line x1="165.82" y1="73.00" x2="165.82" y2="113.70"/>
<line x1="170.50" y1="73.00" x2="170.50" y2="113.70"/>
<line x1="175.19" y1="73.00" x2="175.19" y2="113.70"/>
<line x1="179.87" y1="73.00" x2="179.87" y2="113.70"/>
<line x1="184.55" y1="73.00" x2="184.55" y2="113.70"/>
<line x1="189.23" y1="73.00" x2="189.23" y2="113.70"/>
<line x1="193.91" y1="73.00" x2="193.91" y2="113.70"/>
<line x1="198.60" y1="73.00" x2="198.60" y2="113.70"/>
<line x1="203.28" y1="73.00" x2="203.28" y2="113.70"/>
<line x1="207.96" y1="73.00" x2="207.96" y2="113.70"/>
<line x1="212.64" y1="73.00" x2="212.64" y2="113.70"/>
<line x1="217.32" y1="73.00" x2="217.32" y2="113.70"/>
<line x1="222.01" y1="73.00" x2="222.01" y2="113.70"/>
<line x1="226.69" y1="73.00" x2="226.69" y2="113.70"/>
<line x1="231.37" y1="73.00" x2="231.37" y2="113.70"/>
<line x1="236.05" y1="73.00" x2="236.05" y2="113.70"/>
<line x1="240.73" y1="73.00" x2="240.73" y2="113.70"/>
<line x1="245.42" y1="73.00" x2="245.42" y2="113.70"/>
<line x1="250.10" y1="73.00" x2="250.10" y2="113.70"/>
<line x1="254.78" y1="73.00" x2="254.78" y2="113.70"/>
<line x1="259.46" y1="73.00" x2="259.46" y2="113.70"/>
<line x1="264.14" y1="73.00" x2="264.14" y2="113.70"/>
<line x1="268.83" y1="73.00" x2="268.83" y2="113.70"/>
<line x1="273.51" y1="73.00" x2="273.51" y2="113.70"/>
<line x1="278.19" y1="73.00" x2="278.19" y2="113.70"/>
<line x1="282.87" y1="73.00" x2="282.87" y2="113.70"/>
<line x1="287.55" y1="73.00" x2="287.55" y2="113.70"/>
<line x1="292.24" y1="73.00" x2="292.24" y2="113.70"/>
<line x1="296.92" y1="73.00" x2="296.92" y2="113.70"/>
<line x1="301.60" y1="73.00" x2="301.60" y2="113.70"/>
<line x1="306.28" y1="73.00" x2="306.28" y2="113.70"/>
<line x1="310.96" y1="73.00" x2="310.96" y2="113.70"/>
<line x1="315.65" y1="73.00" x2="315.65" y2="113.70"/>
<line x1="320.33" y1="73.00" x2="320.33" y2="113.70"/>
<line x1="325.01" y1="73.00" x2="325.01" y2="113.70"/>
<line x1="329.69" y1="73.00" x2="329.69" y2="113.70"/>
<line x1="334.37" y1="73.00" x2="334.37" y2="113.70"/>
<line x1="339.06" y1="73.00" x2="339.06" y2="113.70"/>
<line x1="343.74" y1="73.00" x2="343.74" y2="113.70"/>
<line x1="348.42" y1="73.00" x2="348.42" y2="113.70"/>
<line x1="353.10" y1="73.00" x2="353.10" y2="113.70"/>
<line x1="357.78" y1="73.00" x2="357.78" y2="113.70"/>
<line x1="362.47" y1="73.00" x2="362.47" y2="113.70"/>
<line x1="367.15" y1="73.00" x2="367.15" y2="113.70"/>
<line x1="371.83" y1="73.00" x2="371.83" y2="113.70"/>
<line x1="376.51" y1="73.00" x2="376.51" y2="113.70"/>
<line x1="381.19" y1="73.00" x2="381.19" y2="113.70"/>
<line x1="385.88" y1="73.00" x2="385.88" y2="113.70"/>
<line x1="390.56" y1="73.00" x2="390.56" y2="113.70"/>
<line x1="395.24" y1="73.00" x2="395.24" y2="113.70"/>
<line x1="399.92" y1="73.00" x2="399.92" y2="113.70"/>
<line x1="404.60" y1="73.00" x2="404.60" y2="113.70"/>
<line x1="409.29" y1="73.00" x2="409.29" y2="113.70"/>
<line x1="413.97" y1="73.00" x2="413.97" y2="113.70"/>
<line x1="418.65" y1="73.00" x2="418.65" y2="113.70"/>
<line x1="423.33" y1="73.00" x2="423.33" y2="113.70"/>
<line x1="428.01" y1="73.00" x2="428.01" y2="113.70"/>
<line x1="432.70" y1="73.00" x2="432.70" y2="113.70"/>
<line x1="437.38" y1="73.00" x2="437.38" y2="113.70"/>
<line x1="442.06" y1="73.00" x2="442.06" y2="113.70"/>
<line x1="446.74" y1="73.00" x2="446.74" y2="113.70"/>
<line x1="451.42" y1="73.00" x2="451.42" y2="113.70"/>
<line x1="456.11" y1="73.00" x2="456.11" y2="113.70"/>
<line x1="460.79" y1="73.00" x2="460.79" y2="113.70"/>
<line x1="465.47" y1="73.00" x2="465.47" y2="113.70"/>
<line x1="470.15" y1="73.00" x2="470.15" y2="113.70"/>
<line x1="474.83" y1="73.00" x2="474.83" y2="113.70"/>
<line x1="479.52" y1="73.00" x2="479.52" y2="113.70"/>
<line x1="484.20" y1="73.00" x2="484.20" y2="113.70"/>
<line x1="488.88" y1="73.00" x2="488.88" y2="113.70"/>
<line x1="493.56" y1="73.00" x2="493.56" y2="113.70"/>
<line x1="498.24" y1="73.00" x2="498.24" y2="113.70"/>
<line x1="502.93" y1="73.00" x2="502.93" y2="113.70"/>
<line x1="507.61" y1="73.00" x2="507.61" y2="113.70"/>
</g>
<g stroke="#9a9a9a" stroke-width="1.4" fill="none">
<line x1="17.50" y1="23.00" x2="507.61" y2="23.00"/>
<line x1="17.50" y1="73.00" x2="507.61" y2="73.00"/>
<line x1="17.50" y1="23.00" x2="17.50" y2="278.51"/>
</g>
<rect x="18.00" y="274.79" width="49.00" height="3.23" fill="#fff"/>
<g stroke="#666" stroke-width="0.8" fill="none">
<rect x="17.80" y="274.59" width="15.90" height="3.63"/>
<rect x="35.10" y="274.59" width="3.90" height="3.63"/>
<rect x="40.10" y="274.59" width="4.00" height="3.63"/>
<rect x="45.20" y="274.59" width="3.60" height="3.63"/>
<rect x="49.90" y="274.59" width="3.40" height="3.63"/>
<rect x="54.40" y="274.59" width="12.80" height="3.63"/>
</g>
<text transform="translate(76.05,70.7) rotate(-90)" font-size="4.0" fill="#222" stroke="#222" stroke-width="0.07">Stress response</text>
<text transform="translate(112.95,70.7) rotate(-90)" font-size="4.0" fill="#222" stroke="#222" stroke-width="0.07">Epigenetic and</text>
<text transform="translate(117.75,70.7) rotate(-90)" font-size="4.0" fill="#222" stroke="#222" stroke-width="0.07">histone modification</text>
<text transform="translate(151.25,70.7) rotate(-90)" font-size="4.0" fill="#222" stroke="#222" stroke-width="0.07">Ras signaling</text>
<text transform="translate(169.15,70.7) rotate(-90)" font-size="4.0" fill="#222" stroke="#222" stroke-width="0.07">Cell cycle and</text>
<text transform="translate(174.65,70.7) rotate(-90)" font-size="4.0" fill="#222" stroke="#222" stroke-width="0.07">DNA maintenance</text>
<text transform="translate(207.35,70.7) rotate(-90)" font-size="4.0" fill="#222" stroke="#222" stroke-width="0.07">Transcriptional</text>
<text transform="translate(212.25,70.7) rotate(-90)" font-size="4.0" fill="#222" stroke="#222" stroke-width="0.07">regulation</text>
<text transform="translate(245.95,70.7) rotate(-90)" font-size="4.0" fill="#222" stroke="#222" stroke-width="0.07">Wnt/β-catenin</text>
<text transform="translate(251.45,70.7) rotate(-90)" font-size="4.0" fill="#222" stroke="#222" stroke-width="0.07">signaling</text>
<text transform="translate(262.50,70.7) rotate(-90)" font-size="4.0" fill="#222" stroke="#222" stroke-width="0.07">Notch signaling</text>
<text transform="translate(281.25,70.7) rotate(-90)" font-size="4.0" fill="#222" stroke="#222" stroke-width="0.07">TCR signaling</text>
<text transform="translate(302.75,70.7) rotate(-90)" font-size="4.0" fill="#222" stroke="#222" stroke-width="0.07">FGFR signaling</text>
<text transform="translate(319.15,70.7) rotate(-90)" font-size="4.0" fill="#222" stroke="#222" stroke-width="0.07">PI3K/AKT/mTOR</text>
<text transform="translate(324.15,70.7) rotate(-90)" font-size="4.0" fill="#222" stroke="#222" stroke-width="0.07">signaling</text>
<text transform="translate(339.65,70.7) rotate(-90)" font-size="4.0" fill="#222" stroke="#222" stroke-width="0.07">Cell death</text>
<text transform="translate(370.25,70.7) rotate(-90)" font-size="4.0" fill="#222" stroke="#222" stroke-width="0.07">Receptor</text>
<text transform="translate(375.65,70.7) rotate(-90)" font-size="4.0" fill="#222" stroke="#222" stroke-width="0.07">tyrosine kinases</text>
<text transform="translate(403.50,70.7) rotate(-90)" font-size="4.0" fill="#222" stroke="#222" stroke-width="0.07">B cell receptor</text>
<text transform="translate(407.25,70.7) rotate(-90)" font-size="4.0" fill="#222" stroke="#222" stroke-width="0.07">signaling</text>
<text transform="translate(414.00,70.7) rotate(-90)" font-size="4.0" fill="#222" stroke="#222" stroke-width="0.07">Chromatin structure</text>
<text transform="translate(427.75,70.7) rotate(-90)" font-size="4.0" fill="#222" stroke="#222" stroke-width="0.07">Jak/Stat signaling</text>
<text transform="translate(471.50,70.7) rotate(-90)" font-size="4.0" fill="#222" stroke="#222" stroke-width="0.07">Other</text>
<text transform="translate(35.0,59.1) rotate(-45)" font-size="3.9" fill="#555">PATHWAY</text>
<text transform="translate(27.50,112.2) rotate(-90)" font-size="2.9" fill="#505050" stroke="#505050" stroke-width="0.05">ATL PATIENTS</text>
<text transform="translate(39.80,112.2) rotate(-90)" font-size="2.9" fill="#505050" stroke="#505050" stroke-width="0.05">AGE</text>
<text transform="translate(44.30,112.2) rotate(-90)" font-size="2.9" fill="#505050" stroke="#505050" stroke-width="0.05">GENDER</text>
<text transform="translate(48.80,112.2) rotate(-90)" font-size="2.9" fill="#505050" stroke="#505050" stroke-width="0.05">SUBTYPE</text>
<text transform="translate(53.70,112.2) rotate(-90)" font-size="2.9" fill="#505050" stroke="#505050" stroke-width="0.05">CYTOGENETICS</text>
<text transform="translate(62.20,112.2) rotate(-90)" font-size="2.9" fill="#505050" stroke="#505050" stroke-width="0.05">Overall Survival</text>
<text transform="translate(70.80,112.6) rotate(-90)" font-size="2.8" fill="#606060" stroke="#606060" stroke-width="0.05">TP53</text>
<text transform="translate(75.48,112.6) rotate(-90)" font-size="2.8" fill="#606060" stroke="#606060" stroke-width="0.05">ATM</text>
<text transform="translate(80.16,112.6) rotate(-90)" font-size="2.8" fill="#606060" stroke="#606060" stroke-width="0.05">POT1</text>
<text transform="translate(84.85,112.6) rotate(-90)" font-size="2.8" fill="#606060" stroke="#606060" stroke-width="0.05">EP300</text>
<text transform="translate(89.53,112.6) rotate(-90)" font-size="2.8" fill="#606060" stroke="#606060" stroke-width="0.05">CREBBP</text>
<text transform="translate(94.21,112.6) rotate(-90)" font-size="2.8" fill="#606060" stroke="#606060" stroke-width="0.05">TET2</text>
<text transform="translate(98.89,112.6) rotate(-90)" font-size="2.8" fill="#606060" stroke="#606060" stroke-width="0.05">DNMT3A</text>
<text transform="translate(103.57,112.6) rotate(-90)" font-size="2.8" fill="#606060" stroke="#606060" stroke-width="0.05">IDH2</text>
<text transform="translate(108.26,112.6) rotate(-90)" font-size="2.8" fill="#606060" stroke="#606060" stroke-width="0.05">KMT2A</text>
<text transform="translate(112.94,112.6) rotate(-90)" font-size="2.8" fill="#606060" stroke="#606060" stroke-width="0.05">KMT2C</text>
<text transform="translate(117.62,112.6) rotate(-90)" font-size="2.8" fill="#606060" stroke="#606060" stroke-width="0.05">KMT2D</text>
<text transform="translate(122.30,112.6) rotate(-90)" font-size="2.8" fill="#606060" stroke="#606060" stroke-width="0.05">ARID1A</text>
<text transform="translate(126.98,112.6) rotate(-90)" font-size="2.8" fill="#606060" stroke="#606060" stroke-width="0.05">SETD2</text>
<text transform="translate(131.67,112.6) rotate(-90)" font-size="2.8" fill="#606060" stroke="#606060" stroke-width="0.05">EZH2</text>
<text transform="translate(136.35,112.6) rotate(-90)" font-size="2.8" fill="#606060" stroke="#606060" stroke-width="0.05">HIST1H1E</text>
<text transform="translate(141.03,112.6) rotate(-90)" font-size="2.8" fill="#606060" stroke="#606060" stroke-width="0.05">SPEN</text>
<text transform="translate(145.71,112.6) rotate(-90)" font-size="2.8" fill="#606060" stroke="#606060" stroke-width="0.05">KRAS</text>
<text transform="translate(150.39,112.6) rotate(-90)" font-size="2.8" fill="#606060" stroke="#606060" stroke-width="0.05">NRAS</text>
<text transform="translate(155.08,112.6) rotate(-90)" font-size="2.8" fill="#606060" stroke="#606060" stroke-width="0.05">HRAS</text>
<text transform="translate(159.76,112.6) rotate(-90)" font-size="2.8" fill="#606060" stroke="#606060" stroke-width="0.05">CDKN2A</text>
<text transform="translate(164.44,112.6) rotate(-90)" font-size="2.8" fill="#606060" stroke="#606060" stroke-width="0.05">CCND3</text>
<text transform="translate(169.12,112.6) rotate(-90)" font-size="2.8" fill="#606060" stroke="#606060" stroke-width="0.05">ATR</text>
<text transform="translate(173.80,112.6) rotate(-90)" font-size="2.8" fill="#606060" stroke="#606060" stroke-width="0.05">BRCA1</text>
<text transform="translate(178.49,112.6) rotate(-90)" font-size="2.8" fill="#606060" stroke="#606060" stroke-width="0.05">BRCA2</text>
<text transform="translate(183.17,112.6) rotate(-90)" font-size="2.8" fill="#606060" stroke="#606060" stroke-width="0.05">RB1</text>
<text transform="translate(187.85,112.6) rotate(-90)" font-size="2.8" fill="#606060" stroke="#606060" stroke-width="0.05">GATA3</text>
<text transform="translate(192.53,112.6) rotate(-90)" font-size="2.8" fill="#606060" stroke="#606060" stroke-width="0.05">IRF4</text>
<text transform="translate(197.21,112.6) rotate(-90)" font-size="2.8" fill="#606060" stroke="#606060" stroke-width="0.05">IKZF2</text>
<text transform="translate(201.90,112.6) rotate(-90)" font-size="2.8" fill="#606060" stroke="#606060" stroke-width="0.05">RUNX1</text>
<text transform="translate(206.58,112.6) rotate(-90)" font-size="2.8" fill="#606060" stroke="#606060" stroke-width="0.05">ETV6</text>
<text transform="translate(211.26,112.6) rotate(-90)" font-size="2.8" fill="#606060" stroke="#606060" stroke-width="0.05">CIC</text>
<text transform="translate(215.94,112.6) rotate(-90)" font-size="2.8" fill="#606060" stroke="#606060" stroke-width="0.05">TBL1XR1</text>
<text transform="translate(220.62,112.6) rotate(-90)" font-size="2.8" fill="#606060" stroke="#606060" stroke-width="0.05">CCR4</text>
<text transform="translate(225.31,112.6) rotate(-90)" font-size="2.8" fill="#606060" stroke="#606060" stroke-width="0.05">CCR7</text>
<text transform="translate(229.99,112.6) rotate(-90)" font-size="2.8" fill="#606060" stroke="#606060" stroke-width="0.05">ZEB1</text>
<text transform="translate(234.67,112.6) rotate(-90)" font-size="2.8" fill="#606060" stroke="#606060" stroke-width="0.05">NCOR1</text>
<text transform="translate(239.35,112.6) rotate(-90)" font-size="2.8" fill="#606060" stroke="#606060" stroke-width="0.05">MYC</text>
<text transform="translate(244.03,112.6) rotate(-90)" font-size="2.8" fill="#606060" stroke="#606060" stroke-width="0.05">CTNNB1</text>
<text transform="translate(248.72,112.6) rotate(-90)" font-size="2.8" fill="#606060" stroke="#606060" stroke-width="0.05">APC</text>
<text transform="translate(253.40,112.6) rotate(-90)" font-size="2.8" fill="#606060" stroke="#606060" stroke-width="0.05">AXIN1</text>
<text transform="translate(258.08,112.6) rotate(-90)" font-size="2.8" fill="#606060" stroke="#606060" stroke-width="0.05">NOTCH1</text>
<text transform="translate(262.76,112.6) rotate(-90)" font-size="2.8" fill="#606060" stroke="#606060" stroke-width="0.05">NOTCH2</text>
<text transform="translate(267.44,112.6) rotate(-90)" font-size="2.8" fill="#606060" stroke="#606060" stroke-width="0.05">FBXW7</text>
<text transform="translate(272.13,112.6) rotate(-90)" font-size="2.8" fill="#606060" stroke="#606060" stroke-width="0.05">PLCG1</text>
<text transform="translate(276.81,112.6) rotate(-90)" font-size="2.8" fill="#606060" stroke="#606060" stroke-width="0.05">PRKCB</text>
<text transform="translate(281.49,112.6) rotate(-90)" font-size="2.8" fill="#606060" stroke="#606060" stroke-width="0.05">CARD11</text>
<text transform="translate(286.17,112.6) rotate(-90)" font-size="2.8" fill="#606060" stroke="#606060" stroke-width="0.05">VAV1</text>
<text transform="translate(290.85,112.6) rotate(-90)" font-size="2.8" fill="#606060" stroke="#606060" stroke-width="0.05">FYN</text>
<text transform="translate(295.54,112.6) rotate(-90)" font-size="2.8" fill="#606060" stroke="#606060" stroke-width="0.05">FGFR1</text>
<text transform="translate(300.22,112.6) rotate(-90)" font-size="2.8" fill="#606060" stroke="#606060" stroke-width="0.05">FGFR2</text>
<text transform="translate(304.90,112.6) rotate(-90)" font-size="2.8" fill="#606060" stroke="#606060" stroke-width="0.05">FGFR3</text>
<text transform="translate(309.58,112.6) rotate(-90)" font-size="2.8" fill="#606060" stroke="#606060" stroke-width="0.05">FGFR4</text>
<text transform="translate(314.26,112.6) rotate(-90)" font-size="2.8" fill="#606060" stroke="#606060" stroke-width="0.05">PIK3CD</text>
<text transform="translate(318.95,112.6) rotate(-90)" font-size="2.8" fill="#606060" stroke="#606060" stroke-width="0.05">PIK3CA</text>
<text transform="translate(323.63,112.6) rotate(-90)" font-size="2.8" fill="#606060" stroke="#606060" stroke-width="0.05">PTEN</text>
<text transform="translate(328.31,112.6) rotate(-90)" font-size="2.8" fill="#606060" stroke="#606060" stroke-width="0.05">AKT1</text>
<text transform="translate(332.99,112.6) rotate(-90)" font-size="2.8" fill="#606060" stroke="#606060" stroke-width="0.05">MTOR</text>
<text transform="translate(337.67,112.6) rotate(-90)" font-size="2.8" fill="#606060" stroke="#606060" stroke-width="0.05">FAS</text>
<text transform="translate(342.36,112.6) rotate(-90)" font-size="2.8" fill="#606060" stroke="#606060" stroke-width="0.05">BCL2</text>
<text transform="translate(347.04,112.6) rotate(-90)" font-size="2.8" fill="#606060" stroke="#606060" stroke-width="0.05">EGFR</text>
<text transform="translate(351.72,112.6) rotate(-90)" font-size="2.8" fill="#606060" stroke="#606060" stroke-width="0.05">ERBB2</text>
<text transform="translate(356.40,112.6) rotate(-90)" font-size="2.8" fill="#606060" stroke="#606060" stroke-width="0.05">KIT</text>
<text transform="translate(361.08,112.6) rotate(-90)" font-size="2.8" fill="#606060" stroke="#606060" stroke-width="0.05">PDGFRA</text>
<text transform="translate(365.77,112.6) rotate(-90)" font-size="2.8" fill="#606060" stroke="#606060" stroke-width="0.05">FLT3</text>
<text transform="translate(370.45,112.6) rotate(-90)" font-size="2.8" fill="#606060" stroke="#606060" stroke-width="0.05">MET</text>
<text transform="translate(375.13,112.6) rotate(-90)" font-size="2.8" fill="#606060" stroke="#606060" stroke-width="0.05">RET</text>
<text transform="translate(379.81,112.6) rotate(-90)" font-size="2.8" fill="#606060" stroke="#606060" stroke-width="0.05">ALK</text>
<text transform="translate(384.49,112.6) rotate(-90)" font-size="2.8" fill="#606060" stroke="#606060" stroke-width="0.05">ROS1</text>
<text transform="translate(389.18,112.6) rotate(-90)" font-size="2.8" fill="#606060" stroke="#606060" stroke-width="0.05">NTRK1</text>
<text transform="translate(393.86,112.6) rotate(-90)" font-size="2.8" fill="#606060" stroke="#606060" stroke-width="0.05">DDR2</text>
<text transform="translate(398.54,112.6) rotate(-90)" font-size="2.8" fill="#606060" stroke="#606060" stroke-width="0.05">JAK2</text>
<text transform="translate(403.22,112.6) rotate(-90)" font-size="2.8" fill="#606060" stroke="#606060" stroke-width="0.05">CD79A</text>
<text transform="translate(407.90,112.6) rotate(-90)" font-size="2.8" fill="#606060" stroke="#606060" stroke-width="0.05">CD79B</text>
<text transform="translate(412.59,112.6) rotate(-90)" font-size="2.8" fill="#606060" stroke="#606060" stroke-width="0.05">SMARCA4</text>
<text transform="translate(417.27,112.6) rotate(-90)" font-size="2.8" fill="#606060" stroke="#606060" stroke-width="0.05">SMARCB1</text>
<text transform="translate(421.95,112.6) rotate(-90)" font-size="2.8" fill="#606060" stroke="#606060" stroke-width="0.05">JAK1</text>
<text transform="translate(426.63,112.6) rotate(-90)" font-size="2.8" fill="#606060" stroke="#606060" stroke-width="0.05">JAK3</text>
<text transform="translate(431.31,112.6) rotate(-90)" font-size="2.8" fill="#606060" stroke="#606060" stroke-width="0.05">STAT3</text>
<text transform="translate(436.00,112.6) rotate(-90)" font-size="2.8" fill="#606060" stroke="#606060" stroke-width="0.05">RHOA</text>
<text transform="translate(440.68,112.6) rotate(-90)" font-size="2.8" fill="#606060" stroke="#606060" stroke-width="0.05">TNFAIP3</text>
<text transform="translate(445.36,112.6) rotate(-90)" font-size="2.8" fill="#606060" stroke="#606060" stroke-width="0.05">IDH1</text>
<text transform="translate(450.04,112.6) rotate(-90)" font-size="2.8" fill="#606060" stroke="#606060" stroke-width="0.05">ASXL1</text>
<text transform="translate(454.72,112.6) rotate(-90)" font-size="2.8" fill="#606060" stroke="#606060" stroke-width="0.05">MED12</text>
<text transform="translate(459.41,112.6) rotate(-90)" font-size="2.8" fill="#606060" stroke="#606060" stroke-width="0.05">PBRM1</text>
<text transform="translate(464.09,112.6) rotate(-90)" font-size="2.8" fill="#606060" stroke="#606060" stroke-width="0.05">NF1</text>
<text transform="translate(468.77,112.6) rotate(-90)" font-size="2.8" fill="#606060" stroke="#606060" stroke-width="0.05">SF3B1</text>
<text transform="translate(473.45,112.6) rotate(-90)" font-size="2.8" fill="#606060" stroke="#606060" stroke-width="0.05">U2AF1</text>
<text transform="translate(478.13,112.6) rotate(-90)" font-size="2.8" fill="#606060" stroke="#606060" stroke-width="0.05">BCOR</text>
<text transform="translate(482.82,112.6) rotate(-90)" font-size="2.8" fill="#606060" stroke="#606060" stroke-width="0.05">CSF3R</text>
<text transform="translate(487.50,112.6) rotate(-90)" font-size="2.8" fill="#606060" stroke="#606060" stroke-width="0.05">MPL</text>
<text transform="translate(492.18,112.6) rotate(-90)" font-size="2.8" fill="#606060" stroke="#606060" stroke-width="0.05">GNAS</text>
<text transform="translate(496.86,112.6) rotate(-90)" font-size="2.8" fill="#606060" stroke="#606060" stroke-width="0.05">KDM6A</text>
<text transform="translate(501.54,112.6) rotate(-90)" font-size="2.8" fill="#606060" stroke="#606060" stroke-width="0.05">CXCR4</text>
<text transform="translate(506.23,112.6) rotate(-90)" font-size="2.8" fill="#606060" stroke="#606060" stroke-width="0.05">B2M</text>
<text x="20.0" y="116.80" font-size="3.0" fill="#4a4a4a" stroke="#4a4a4a" stroke-width="0.05">ATL 1</text>
<text x="37.0" y="116.80" font-size="2.8" fill="#777" stroke="#777" stroke-width="0.05">40</text>
<text x="42.3" y="116.80" font-size="2.8" fill="#555" stroke="#555" stroke-width="0.05">F</text>
<text x="61.0" y="116.80" font-size="2.8" fill="#666" stroke="#666" stroke-width="0.05" text-anchor="middle">33</text>
<text x="20.0" y="121.03" font-size="3.0" fill="#4a4a4a" stroke="#4a4a4a" stroke-width="0.05">ATL 2</text>
<text x="37.0" y="121.03" font-size="2.8" fill="#777" stroke="#777" stroke-width="0.05">47</text>
<text x="42.3" y="121.03" font-size="2.8" fill="#555" stroke="#555" stroke-width="0.05">M</text>
<text x="61.0" y="121.03" font-size="2.8" fill="#666" stroke="#666" stroke-width="0.05" text-anchor="middle">342</text>
<text x="20.0" y="125.25" font-size="3.0" fill="#4a4a4a" stroke="#4a4a4a" stroke-width="0.05">ATL 3</text>
<text x="37.0" y="125.25" font-size="2.8" fill="#777" stroke="#777" stroke-width="0.05">54</text>
<text x="42.3" y="125.25" font-size="2.8" fill="#555" stroke="#555" stroke-width="0.05">M</text>
<text x="61.0" y="125.25" font-size="2.8" fill="#666" stroke="#666" stroke-width="0.05" text-anchor="middle">543</text>
<text x="20.0" y="129.48" font-size="3.0" fill="#4a4a4a" stroke="#4a4a4a" stroke-width="0.05">ATL 4</text>
<text x="37.0" y="129.48" font-size="2.8" fill="#777" stroke="#777" stroke-width="0.05">61</text>
<text x="42.3" y="129.48" font-size="2.8" fill="#555" stroke="#555" stroke-width="0.05">F</text>
<text x="61.0" y="129.48" font-size="2.8" fill="#666" stroke="#666" stroke-width="0.05" text-anchor="middle">943</text>
<text x="20.0" y="133.70" font-size="3.0" fill="#4a4a4a" stroke="#4a4a4a" stroke-width="0.05">ATL 5</text>
<text x="37.0" y="133.70" font-size="2.8" fill="#777" stroke="#777" stroke-width="0.05">68</text>
<text x="42.3" y="133.70" font-size="2.8" fill="#555" stroke="#555" stroke-width="0.05">M</text>
<text x="61.0" y="133.70" font-size="2.8" fill="#666" stroke="#666" stroke-width="0.05" text-anchor="middle">125*</text>
<text x="20.0" y="137.93" font-size="3.0" fill="#4a4a4a" stroke="#4a4a4a" stroke-width="0.05">ATL 6</text>
<text x="37.0" y="137.93" font-size="2.8" fill="#777" stroke="#777" stroke-width="0.05">40</text>
<text x="42.3" y="137.93" font-size="2.8" fill="#555" stroke="#555" stroke-width="0.05">M</text>
<text x="61.0" y="137.93" font-size="2.8" fill="#666" stroke="#666" stroke-width="0.05" text-anchor="middle">88</text>
<text x="20.0" y="142.16" font-size="3.0" fill="#4a4a4a" stroke="#4a4a4a" stroke-width="0.05">ATL 7</text>
<text x="37.0" y="142.16" font-size="2.8" fill="#777" stroke="#777" stroke-width="0.05">47</text>
<text x="42.3" y="142.16" font-size="2.8" fill="#555" stroke="#555" stroke-width="0.05">F</text>
<text x="61.0" y="142.16" font-size="2.8" fill="#666" stroke="#666" stroke-width="0.05" text-anchor="middle">225</text>
<text x="20.0" y="146.38" font-size="3.0" fill="#4a4a4a" stroke="#4a4a4a" stroke-width="0.05">ATL 8</text>
<text x="37.0" y="146.38" font-size="2.8" fill="#777" stroke="#777" stroke-width="0.05">54</text>
<text x="42.3" y="146.38" font-size="2.8" fill="#555" stroke="#555" stroke-width="0.05">M</text>
<text x="61.0" y="146.38" font-size="2.8" fill="#666" stroke="#666" stroke-width="0.05" text-anchor="middle">759</text>
<text x="20.0" y="150.61" font-size="3.0" fill="#4a4a4a" stroke="#4a4a4a" stroke-width="0.05">ATL 9</text>
<text x="37.0" y="150.61" font-size="2.8" fill="#777" stroke="#777" stroke-width="0.05">61</text>
<text x="42.3" y="150.61" font-size="2.8" fill="#555" stroke="#555" stroke-width="0.05">M</text>
<text x="61.0" y="150.61" font-size="2.8" fill="#666" stroke="#666" stroke-width="0.05" text-anchor="middle">759</text>
<text x="20.0" y="154.83" font-size="3.0" fill="#4a4a4a" stroke="#4a4a4a" stroke-width="0.05">ATL 10</text>
<text x="37.0" y="154.83" font-size="2.8" fill="#777" stroke="#777" stroke-width="0.05">68</text>
<text x="42.3" y="154.83" font-size="2.8" fill="#555" stroke="#555" stroke-width="0.05">F</text>
<text x="61.0" y="154.83" font-size="2.8" fill="#666" stroke="#666" stroke-width="0.05" text-anchor="middle">9</text>
<text x="20.0" y="159.06" font-size="3.0" fill="#4a4a4a" stroke="#4a4a4a" stroke-width="0.05">ATL 11</text>
<text x="37.0" y="159.06" font-size="2.8" fill="#777" stroke="#777" stroke-width="0.05">40</text>
<text x="42.3" y="159.06" font-size="2.8" fill="#555" stroke="#555" stroke-width="0.05">M</text>
<text x="61.0" y="159.06" font-size="2.8" fill="#666" stroke="#666" stroke-width="0.05" text-anchor="middle">453</text>
<text x="20.0" y="163.29" font-size="3.0" fill="#4a4a4a" stroke="#4a4a4a" stroke-width="0.05">ATL 12</text>
<text x="37.0" y="163.29" font-size="2.8" fill="#777" stroke="#777" stroke-width="0.05">47</text>
<text x="42.3" y="163.29" font-size="2.8" fill="#555" stroke="#555" stroke-width="0.05">M</text>
<text x="61.0" y="163.29" font-size="2.8" fill="#666" stroke="#666" stroke-width="0.05" text-anchor="middle">23</text>
<text x="20.0" y="167.51" font-size="3.0" fill="#4a4a4a" stroke="#4a4a4a" stroke-width="0.05">ATL 13</text>
<text x="37.0" y="167.51" font-size="2.8" fill="#777" stroke="#777" stroke-width="0.05">54</text>
<text x="42.3" y="167.51" font-size="2.8" fill="#555" stroke="#555" stroke-width="0.05">F</text>
<text x="61.0" y="167.51" font-size="2.8" fill="#666" stroke="#666" stroke-width="0.05" text-anchor="middle">17</text>
<text x="20.0" y="171.74" font-size="3.0" fill="#4a4a4a" stroke="#4a4a4a" stroke-width="0.05">ATL 14</text>
<text x="37.0" y="171.74" font-size="2.8" fill="#777" stroke="#777" stroke-width="0.05">61</text>
<text x="42.3" y="171.74" font-size="2.8" fill="#555" stroke="#555" stroke-width="0.05">M</text>
<text x="61.0" y="171.74" font-size="2.8" fill="#666" stroke="#666" stroke-width="0.05" text-anchor="middle">2029*</text>
<text x="20.0" y="175.96" font-size="3.0" fill="#4a4a4a" stroke="#4a4a4a" stroke-width="0.05">ATL 15</text>
<text x="37.0" y="175.96" font-size="2.8" fill="#777" stroke="#777" stroke-width="0.05">68</text>
<text x="42.3" y="175.96" font-size="2.8" fill="#555" stroke="#555" stroke-width="0.05">M</text>
<text x="61.0" y="175.96" font-size="2.8" fill="#666" stroke="#666" stroke-width="0.05" text-anchor="middle">76</text>
<text x="20.0" y="180.19" font-size="3.0" fill="#4a4a4a" stroke="#4a4a4a" stroke-width="0.05">ATL 16</text>
<text x="37.0" y="180.19" font-size="2.8" fill="#777" stroke="#777" stroke-width="0.05">40</text>
<text x="42.3" y="180.19" font-size="2.8" fill="#555" stroke="#555" stroke-width="0.05">F</text>
<text x="61.0" y="180.19" font-size="2.8" fill="#666" stroke="#666" stroke-width="0.05" text-anchor="middle">25</text>
<text x="20.0" y="184.42" font-size="3.0" fill="#4a4a4a" stroke="#4a4a4a" stroke-width="0.05">ATL 17</text>
<text x="37.0" y="184.42" font-size="2.8" fill="#777" stroke="#777" stroke-width="0.05">47</text>
<text x="42.3" y="184.42" font-size="2.8" fill="#555" stroke="#555" stroke-width="0.05">M</text>
<text x="61.0" y="184.42" font-size="2.8" fill="#666" stroke="#666" stroke-width="0.05" text-anchor="middle">1504*</text>
<text x="20.0" y="188.64" font-size="3.0" fill="#4a4a4a" stroke="#4a4a4a" stroke-width="0.05">ATL 18</text>
<text x="37.0" y="188.64" font-size="2.8" fill="#777" stroke="#777" stroke-width="0.05">54</text>
<text x="42.3" y="188.64" font-size="2.8" fill="#555" stroke="#555" stroke-width="0.05">M</text>
<text x="61.0" y="188.64" font-size="2.8" fill="#666" stroke="#666" stroke-width="0.05" text-anchor="middle">1287*</text>
<text x="20.0" y="192.87" font-size="3.0" fill="#4a4a4a" stroke="#4a4a4a" stroke-width="0.05">ATL 19</text>
<text x="37.0" y="192.87" font-size="2.8" fill="#777" stroke="#777" stroke-width="0.05">61</text>
<text x="42.3" y="192.87" font-size="2.8" fill="#555" stroke="#555" stroke-width="0.05">F</text>
<text x="61.0" y="192.87" font-size="2.8" fill="#666" stroke="#666" stroke-width="0.05" text-anchor="middle">476</text>
<text x="20.0" y="197.09" font-size="3.0" fill="#4a4a4a" stroke="#4a4a4a" stroke-width="0.05">ATL 20</text>
<text x="37.0" y="197.09" font-size="2.8" fill="#777" stroke="#777" stroke-width="0.05">68</text>
<text x="42.3" y="197.09" font-size="2.8" fill="#555" stroke="#555" stroke-width="0.05">M</text>
<text x="61.0" y="197.09" font-size="2.8" fill="#666" stroke="#666" stroke-width="0.05" text-anchor="middle">63*</text>
<text x="20.0" y="201.32" font-size="3.0" fill="#4a4a4a" stroke="#4a4a4a" stroke-width="0.05">ATL 21</text>
<text x="37.0" y="201.32" font-size="2.8" fill="#777" stroke="#777" stroke-width="0.05">40</text>
<text x="42.3" y="201.32" font-size="2.8" fill="#555" stroke="#555" stroke-width="0.05">M</text>
<text x="61.0" y="201.32" font-size="2.8" fill="#666" stroke="#666" stroke-width="0.05" text-anchor="middle">3024*</text>
<text x="20.0" y="205.55" font-size="3.0" fill="#4a4a4a" stroke="#4a4a4a" stroke-width="0.05">ATL 22</text>
<text x="37.0" y="205.55" font-size="2.8" fill="#777" stroke="#777" stroke-width="0.05">47</text>
<text x="42.3" y="205.55" font-size="2.8" fill="#555" stroke="#555" stroke-width="0.05">F</text>
<text x="61.0" y="205.55" font-size="2.8" fill="#666" stroke="#666" stroke-width="0.05" text-anchor="middle">1260*</text>
<text x="20.0" y="209.77" font-size="3.0" fill="#4a4a4a" stroke="#4a4a4a" stroke-width="0.05">ATL 23</text>
<text x="37.0" y="209.77" font-size="2.8" fill="#777" stroke="#777" stroke-width="0.05">54</text>
<text x="42.3" y="209.77" font-size="2.8" fill="#555" stroke="#555" stroke-width="0.05">M</text>
<text x="61.0" y="209.77" font-size="2.8" fill="#666" stroke="#666" stroke-width="0.05" text-anchor="middle">7</text>
<text x="20.0" y="214.00" font-size="3.0" fill="#4a4a4a" stroke="#4a4a4a" stroke-width="0.05">ATL 24</text>
<text x="37.0" y="214.00" font-size="2.8" fill="#777" stroke="#777" stroke-width="0.05">61</text>
<text x="42.3" y="214.00" font-size="2.8" fill="#555" stroke="#555" stroke-width="0.05">M</text>
<text x="61.0" y="214.00" font-size="2.8" fill="#666" stroke="#666" stroke-width="0.05" text-anchor="middle">92</text>
<text x="20.0" y="218.22" font-size="3.0" fill="#4a4a4a" stroke="#4a4a4a" stroke-width="0.05">ATL 25</text>
<text x="37.0" y="218.22" font-size="2.8" fill="#777" stroke="#777" stroke-width="0.05">68</text>
<text x="42.3" y="218.22" font-size="2.8" fill="#555" stroke="#555" stroke-width="0.05">F</text>
<text x="61.0" y="218.22" font-size="2.8" fill="#666" stroke="#666" stroke-width="0.05" text-anchor="middle">1270</text>
<text x="20.0" y="222.45" font-size="3.0" fill="#4a4a4a" stroke="#4a4a4a" stroke-width="0.05">ATL 26</text>
<text x="37.0" y="222.45" font-size="2.8" fill="#777" stroke="#777" stroke-width="0.05">40</text>
<text x="42.3" y="222.45" font-size="2.8" fill="#555" stroke="#555" stroke-width="0.05">M</text>
<text x="61.0" y="222.45" font-size="2.8" fill="#666" stroke="#666" stroke-width="0.05" text-anchor="middle">175*</text>
<text x="20.0" y="226.68" font-size="3.0" fill="#4a4a4a" stroke="#4a4a4a" stroke-width="0.05">ATL 27</text>
<text x="37.0" y="226.68" font-size="2.8" fill="#777" stroke="#777" stroke-width="0.05">47</text>
<text x="42.3" y="226.68" font-size="2.8" fill="#555" stroke="#555" stroke-width="0.05">M</text>
<text x="61.0" y="226.68" font-size="2.8" fill="#666" stroke="#666" stroke-width="0.05" text-anchor="middle">102</text>
<text x="20.0" y="230.90" font-size="3.0" fill="#4a4a4a" stroke="#4a4a4a" stroke-width="0.05">ATL 28</text>
<text x="37.0" y="230.90" font-size="2.8" fill="#777" stroke="#777" stroke-width="0.05">54</text>
<text x="42.3" y="230.90" font-size="2.8" fill="#555" stroke="#555" stroke-width="0.05">F</text>
<text x="61.0" y="230.90" font-size="2.8" fill="#666" stroke="#666" stroke-width="0.05" text-anchor="middle">3</text>
<text x="20.0" y="235.13" font-size="3.0" fill="#4a4a4a" stroke="#4a4a4a" stroke-width="0.05">ATL 29</text>
<text x="37.0" y="235.13" font-size="2.8" fill="#777" stroke="#777" stroke-width="0.05">61</text>
<text x="42.3" y="235.13" font-size="2.8" fill="#555" stroke="#555" stroke-width="0.05">M</text>
<text x="61.0" y="235.13" font-size="2.8" fill="#666" stroke="#666" stroke-width="0.05" text-anchor="middle">1070*</text>
<text x="20.0" y="239.35" font-size="3.0" fill="#4a4a4a" stroke="#4a4a4a" stroke-width="0.05">ATL 30</text>
<text x="37.0" y="239.35" font-size="2.8" fill="#777" stroke="#777" stroke-width="0.05">68</text>
<text x="42.3" y="239.35" font-size="2.8" fill="#555" stroke="#555" stroke-width="0.05">M</text>
<text x="61.0" y="239.35" font-size="2.8" fill="#666" stroke="#666" stroke-width="0.05" text-anchor="middle">1104*</text>
<text x="20.0" y="243.58" font-size="3.0" fill="#4a4a4a" stroke="#4a4a4a" stroke-width="0.05">ATL55T(+)</text>
<text x="20.0" y="247.81" font-size="3.0" fill="#4a4a4a" stroke="#4a4a4a" stroke-width="0.05">LMY1</text>
<text x="20.0" y="252.03" font-size="3.0" fill="#4a4a4a" stroke="#4a4a4a" stroke-width="0.05">ATL-43T(+)</text>
<text x="20.0" y="256.26" font-size="3.0" fill="#4a4a4a" stroke="#4a4a4a" stroke-width="0.05">ATL-43Tfa-(-)</text>
<text x="20.0" y="260.48" font-size="3.0" fill="#4a4a4a" stroke="#4a4a4a" stroke-width="0.05">ED40515(+)</text>
<text x="20.0" y="264.71" font-size="3.0" fill="#4a4a4a" stroke="#4a4a4a" stroke-width="0.05">ED40515(-)</text>
<text x="20.0" y="268.94" font-size="3.0" fill="#4a4a4a" stroke="#4a4a4a" stroke-width="0.05">ED41214C(+)</text>
<text x="20.0" y="273.16" font-size="3.0" fill="#4a4a4a" stroke="#4a4a4a" stroke-width="0.05">ED41214(-)</text>
<text x="19.5" y="277.39" font-size="3.0" fill="#4a4a4a" stroke="#4a4a4a" stroke-width="0.05">Japanese</text>
<rect x="149.5" y="284.8" width="219.6" height="67.3" fill="none" stroke="#444" stroke-width="0.9"/>
<text x="153.1" y="294.1" font-size="5.3" fill="#111" textLength="88.5" lengthAdjust="spacingAndGlyphs" xml:space="preserve" stroke="#111" stroke-width="0.05">ATL 1-30: North American ATLL Patients</text>
<text x="153.1" y="304.1" font-size="5.3" fill="#111" textLength="127.4" lengthAdjust="spacingAndGlyphs" xml:space="preserve" stroke="#111" stroke-width="0.05">ATL55T(+) to ED41214(-) are 8 Japanese derived cell lines</text>
<text x="153.1" y="314.1" font-size="5.3" fill="#111" textLength="114.8" lengthAdjust="spacingAndGlyphs" xml:space="preserve" stroke="#111" stroke-width="0.05">Japanese: Mutations also seen in Japanese patients</text>
<text x="153.1" y="324.8" font-size="5.3" fill="#111" textLength="20.0" lengthAdjust="spacingAndGlyphs" xml:space="preserve" stroke="#111" stroke-width="0.05">Subtype:</text>
<text x="153.1" y="335.3" font-size="5.3" fill="#111" textLength="30.7" lengthAdjust="spacingAndGlyphs" xml:space="preserve" stroke="#111" stroke-width="0.05">Cytogenetics:</text>
<text x="153.1" y="346.7" font-size="5.3" fill="#111" textLength="145.8" lengthAdjust="spacingAndGlyphs" xml:space="preserve" stroke="#111" stroke-width="0.05">Overall Survival:  Number of days from diagnosis to death *: Alive</text>
<rect x="210.3" y="317.5" width="7.7" height="10.6" fill="#f3e41e"/>
<text x="221.2" y="324.8" font-size="5.3" fill="#111" textLength="12.9" lengthAdjust="spacingAndGlyphs" stroke="#111" stroke-width="0.05">Acute</text>
<rect x="247.3" y="317.5" width="7.7" height="10.6" fill="#b4c53a"/>
<text x="258.0" y="324.8" font-size="5.3" fill="#111" textLength="35.5" lengthAdjust="spacingAndGlyphs" stroke="#111" stroke-width="0.05">Lymphomatous</text>
<rect x="306.2" y="317.5" width="7.7" height="10.6" fill="#e6a77c"/>
<text x="316.5" y="324.8" font-size="5.3" fill="#111" textLength="46.2" lengthAdjust="spacingAndGlyphs" stroke="#111" stroke-width="0.05">Chronic/Smoldering</text>
<rect x="210.3" y="328.1" width="7.7" height="10.6" fill="#a88cc8"/>
<text x="221.2" y="335.40000000000003" font-size="5.3" fill="#111" textLength="16.9" lengthAdjust="spacingAndGlyphs" stroke="#111" stroke-width="0.05">Normal</text>
<rect x="247.3" y="328.1" width="7.7" height="10.6" fill="#92c2ec"/>
<text x="258.0" y="335.40000000000003" font-size="5.3" fill="#111" textLength="20.1" lengthAdjust="spacingAndGlyphs" stroke="#111" stroke-width="0.05">Complex</text>
<rect x="306.2" y="328.1" width="7.7" height="10.6" fill="#e6c4e2"/>
<text x="316.5" y="335.40000000000003" font-size="5.3" fill="#111" textLength="22.2" lengthAdjust="spacingAndGlyphs" stroke="#111" stroke-width="0.05">Unknown</text>
<text x="76.6" y="376.3" font-size="10.6" fill="#111">B</text>
<text x="96.6" y="390.2" font-size="7" fill="#222" stroke="#222" stroke-width="0.05">p53</text>
<rect x="96.9" y="404.6" width="340.22" height="6" fill="#b6b6b6"/>
<line x1="214.0" y1="402.5" x2="214.0" y2="391.5" stroke="#222" stroke-width="0.9"/>
<circle cx="214.0" cy="391.5" r="1.6" fill="#2f9a3a"/>
<line x1="223.5" y1="402.5" x2="223.5" y2="391.5" stroke="#222" stroke-width="0.9"/>
<circle cx="223.5" cy="391.5" r="1.6" fill="#111"/>
<line x1="249.1" y1="402.5" x2="249.1" y2="391.5" stroke="#222" stroke-width="0.9"/>
<circle cx="249.1" cy="391.5" r="1.6" fill="#2f9a3a"/>
<line x1="333.1" y1="402.5" x2="333.1" y2="391.5" stroke="#222" stroke-width="0.9"/>
<circle cx="333.1" cy="391.5" r="1.6" fill="#2f9a3a"/>
<line x1="337.1" y1="402.5" x2="337.1" y2="391.5" stroke="#222" stroke-width="0.9"/>
<circle cx="337.1" cy="391.5" r="1.6" fill="#2f9a3a"/>
<line x1="288.3" y1="402.5" x2="288.3" y2="383.5" stroke="#222" stroke-width="0.9"/>
<circle cx="288.3" cy="383.5" r="1.6" fill="#111"/>
<circle cx="288.3" cy="390.6" r="1.6" fill="#111"/>
<rect x="101.0" y="402.1" width="20.7" height="10.6" fill="#4ba346"/>
<rect x="179.1" y="402.1" width="168.0" height="10.6" fill="#d1463f"/>
<rect x="373.3" y="402.1" width="33.6" height="10.6" fill="#5a4a9e"/>
<text x="111.3" y="409.0" font-size="4.2" fill="#f2f2f2" text-anchor="middle" stroke="#f2f2f2" stroke-width="0.08">TAD</text>
<text x="263.4" y="409.0" font-size="4.7" fill="#f4dede" text-anchor="middle" stroke="#f4dede" stroke-width="0.08">DNABD</text>
<text x="390.1" y="409.0" font-size="4.7" fill="#eeeaf6" text-anchor="middle" stroke="#eeeaf6" stroke-width="0.08">TM</text>
<line x1="94.2" y1="414.9" x2="438.6" y2="414.9" stroke="#111" stroke-width="1.1"/>
<line x1="96.90" y1="414.9" x2="96.90" y2="417.4" stroke="#111" stroke-width="0.9"/>
<line x1="140.19" y1="414.9" x2="140.19" y2="417.4" stroke="#111" stroke-width="0.9"/>
<line x1="183.47" y1="414.9" x2="183.47" y2="417.4" stroke="#111" stroke-width="0.9"/>
<line x1="226.75" y1="414.9" x2="226.75" y2="417.4" stroke="#111" stroke-width="0.9"/>
<line x1="270.04" y1="414.9" x2="270.04" y2="417.4" stroke="#111" stroke-width="0.9"/>
<line x1="313.33" y1="414.9" x2="313.33" y2="417.4" stroke="#111" stroke-width="0.9"/>
<line x1="356.61" y1="414.9" x2="356.61" y2="417.4" stroke="#111" stroke-width="0.9"/>
<line x1="399.89" y1="414.9" x2="399.89" y2="417.4" stroke="#111" stroke-width="0.9"/>
<line x1="437.12" y1="414.9" x2="437.12" y2="417.4" stroke="#111" stroke-width="0.9"/>
<text x="96.90" y="426.6" font-size="5.0" fill="#222" text-anchor="middle" stroke="#222" stroke-width="0.05">0</text>
<text x="183.47" y="426.6" font-size="5.0" fill="#222" text-anchor="middle" stroke="#222" stroke-width="0.05">100</text>
<text x="270.04" y="426.6" font-size="5.0" fill="#222" text-anchor="middle" stroke="#222" stroke-width="0.05">200</text>
<text x="356.61" y="426.6" font-size="5.0" fill="#222" text-anchor="middle" stroke="#222" stroke-width="0.05">300</text>
<text x="430.0" y="426.6" font-size="5.0" fill="#222" stroke="#222" stroke-width="0.05">393 aa</text>
<text x="73.5" y="451.3" font-size="10.6" fill="#111">C</text>
<text x="96.6" y="461.0" font-size="7" fill="#222" stroke="#222" stroke-width="0.05">p300</text>
<rect x="96.9" y="473.3" width="350.75" height="7" fill="#b6b6b6"/>
<line x1="174.6" y1="473.5" x2="174.6" y2="458.6" stroke="#222" stroke-width="0.9"/>
<circle cx="174.6" cy="458.6" r="1.6" fill="#2f9a3a"/>
<line x1="187.1" y1="470.5" x2="187.1" y2="458.6" stroke="#222" stroke-width="0.9"/>
<circle cx="187.1" cy="458.6" r="1.6" fill="#2f9a3a"/>
<line x1="204.4" y1="473.5" x2="204.4" y2="457.4" stroke="#222" stroke-width="0.9"/>
<circle cx="204.4" cy="457.4" r="1.6" fill="#1f6fc0"/>
<circle cx="204.4" cy="466.2" r="1.6" fill="#1f6fc0"/>
<line x1="251.2" y1="470.5" x2="251.2" y2="458.6" stroke="#222" stroke-width="0.9"/>
<circle cx="251.2" cy="458.6" r="1.6" fill="#1f6fc0"/>
<line x1="299.9" y1="470.5" x2="299.9" y2="457.8" stroke="#222" stroke-width="0.9"/>
<circle cx="299.9" cy="457.8" r="1.6" fill="#1f6fc0"/>
<line x1="311.9" y1="470.5" x2="311.9" y2="457.8" stroke="#222" stroke-width="0.9"/>
<circle cx="311.9" cy="457.8" r="1.6" fill="#2f9a3a"/>
<line x1="336.8" y1="473.5" x2="336.8" y2="457.8" stroke="#222" stroke-width="0.9"/>
<circle cx="336.8" cy="457.8" r="1.6" fill="#1f6fc0"/>
<rect x="146.9" y="470.4" width="10.90" height="12.4" fill="#4ba346"/>
<rect x="179.7" y="470.4" width="12.00" height="12.4" fill="#d1463f"/>
<rect x="251.2" y="470.4" width="12.30" height="12.4" fill="#5a4a9e"/>
<rect x="265.8" y="470.4" width="5.00" height="12.4" fill="#f6e021"/>
<rect x="287.0" y="470.4" width="44.10" height="12.4" fill="#8b2f8e"/>
<rect x="339.2" y="470.4" width="5.50" height="12.4" fill="#e8922e"/>
<rect x="347.7" y="470.4" width="12.00" height="12.4" fill="#4ba346"/>
<rect x="386.9" y="470.4" width="15.00" height="12.4" fill="#c876b6"/>
<text x="152.35" y="475.9" font-size="4.0" fill="#f0f0f0" text-anchor="middle">TAZ</text><text x="152.35" y="480.6" font-size="4.0" fill="#f0f0f0" text-anchor="middle">1</text>
<text x="185.7" y="478.3" font-size="4.0" fill="#f0f0f0" text-anchor="middle">KIX</text>
<text x="257.35" y="478.3" font-size="4.0" fill="#f0f0f0" text-anchor="middle">BD</text>
<text x="309.0" y="478.3" font-size="4.0" fill="#f0f0f0" text-anchor="middle">HAT</text>
<text x="341.95" y="475.9" font-size="4.0" fill="#f0f0f0" text-anchor="middle">Z</text><text x="341.95" y="480.6" font-size="4.0" fill="#f0f0f0" text-anchor="middle">Z</text>
<text x="353.7" y="475.9" font-size="4.0" fill="#f0f0f0" text-anchor="middle">TAZ</text><text x="353.7" y="480.6" font-size="4.0" fill="#f0f0f0" text-anchor="middle">2</text>
<text x="394.4" y="478.3" font-size="4.0" fill="#f0f0f0" text-anchor="middle">IBiD</text>
<line x1="94.2" y1="485.6" x2="450.6" y2="485.6" stroke="#111" stroke-width="1.1"/>
<line x1="96.90" y1="485.6" x2="96.90" y2="488.0" stroke="#111" stroke-width="0.9"/>
<line x1="125.96" y1="485.6" x2="125.96" y2="488.0" stroke="#111" stroke-width="0.9"/>
<line x1="155.02" y1="485.6" x2="155.02" y2="488.0" stroke="#111" stroke-width="0.9"/>
<line x1="184.08" y1="485.6" x2="184.08" y2="488.0" stroke="#111" stroke-width="0.9"/>
<line x1="213.14" y1="485.6" x2="213.14" y2="488.0" stroke="#111" stroke-width="0.9"/>
<line x1="242.20" y1="485.6" x2="242.20" y2="488.0" stroke="#111" stroke-width="0.9"/>
<line x1="271.26" y1="485.6" x2="271.26" y2="488.0" stroke="#111" stroke-width="0.9"/>
<line x1="300.32" y1="485.6" x2="300.32" y2="488.0" stroke="#111" stroke-width="0.9"/>
<line x1="329.38" y1="485.6" x2="329.38" y2="488.0" stroke="#111" stroke-width="0.9"/>
<line x1="358.44" y1="485.6" x2="358.44" y2="488.0" stroke="#111" stroke-width="0.9"/>
<line x1="387.50" y1="485.6" x2="387.50" y2="488.0" stroke="#111" stroke-width="0.9"/>
<line x1="416.56" y1="485.6" x2="416.56" y2="488.0" stroke="#111" stroke-width="0.9"/>
<line x1="445.62" y1="485.6" x2="445.62" y2="488.0" stroke="#111" stroke-width="0.9"/>
<line x1="447.65" y1="485.6" x2="447.65" y2="488.0" stroke="#111" stroke-width="0.9"/>
<text x="96.90" y="496.4" font-size="5.0" fill="#222" text-anchor="middle" stroke="#222" stroke-width="0.05">0</text>
<text x="155.02" y="496.4" font-size="5.0" fill="#222" text-anchor="middle" stroke="#222" stroke-width="0.05">400</text>
<text x="213.14" y="496.4" font-size="5.0" fill="#222" text-anchor="middle" stroke="#222" stroke-width="0.05">800</text>
<text x="271.26" y="496.4" font-size="5.0" fill="#222" text-anchor="middle" stroke="#222" stroke-width="0.05">1200</text>
<text x="329.38" y="496.4" font-size="5.0" fill="#222" text-anchor="middle" stroke="#222" stroke-width="0.05">1600</text>
<text x="387.50" y="496.4" font-size="5.0" fill="#222" text-anchor="middle" stroke="#222" stroke-width="0.05">2000</text>
<text x="440.0" y="496.4" font-size="5.0" fill="#222" stroke="#222" stroke-width="0.05">2414 aa</text>
<text x="12.4" y="522.0" font-size="10.6" fill="#111">D</text>
<line x1="43.7" y1="548.8" x2="43.7" y2="628.1" stroke="#1a1a1a" stroke-width="1.2"/>
<line x1="43.2" y1="627.6" x2="262.9" y2="627.6" stroke="#1a1a1a" stroke-width="1.1"/>
<text x="40.0" y="553.70" font-size="4.7" fill="#333" text-anchor="end" stroke="#333" stroke-width="0.08">25%</text>
<text x="40.0" y="568.80" font-size="4.7" fill="#333" text-anchor="end" stroke="#333" stroke-width="0.08">20%</text>
<text x="40.0" y="583.90" font-size="4.7" fill="#333" text-anchor="end" stroke="#333" stroke-width="0.08">15%</text>
<text x="40.0" y="599.00" font-size="4.7" fill="#333" text-anchor="end" stroke="#333" stroke-width="0.08">10%</text>
<text x="40.0" y="614.10" font-size="4.7" fill="#333" text-anchor="end" stroke="#333" stroke-width="0.08">5%</text>
<text x="40.0" y="629.20" font-size="4.7" fill="#333" text-anchor="end" stroke="#333" stroke-width="0.08">0%</text>
<text transform="translate(24.6,588.4) rotate(-90)" font-size="6.8" fill="#111" text-anchor="middle" stroke="#111" stroke-width="0.05">Frequency (%)</text>
<rect x="46.90" y="557.23" width="3.25" height="70.37" fill="#eba31a"/>
<rect x="50.15" y="573.84" width="3.25" height="53.76" fill="#2d1a86"/>
<text transform="translate(51.63,631.60) rotate(-90)" font-size="4.35" fill="#222" text-anchor="end" stroke="#222" stroke-width="0.08">TP53</text>
<rect x="59.64" y="567.20" width="3.25" height="60.40" fill="#eba31a"/>
<rect x="62.89" y="609.78" width="3.25" height="17.82" fill="#2d1a86"/>
<text transform="translate(64.37,631.60) rotate(-90)" font-size="4.35" fill="#222" text-anchor="end" stroke="#222" stroke-width="0.08">EP300</text>
<rect x="72.38" y="567.20" width="3.25" height="60.40" fill="#eba31a"/>
<rect x="75.63" y="582.00" width="3.25" height="45.60" fill="#2d1a86"/>
<text transform="translate(77.11,631.60) rotate(-90)" font-size="4.35" fill="#222" text-anchor="end" stroke="#222" stroke-width="0.08">NOTCH1</text>
<rect x="85.12" y="587.43" width="3.25" height="40.17" fill="#eba31a"/>
<rect x="88.37" y="576.26" width="3.25" height="51.34" fill="#2d1a86"/>
<text transform="translate(89.85,631.60) rotate(-90)" font-size="4.35" fill="#222" text-anchor="end" stroke="#222" stroke-width="0.08">TBL1XR1</text>
<rect x="97.86" y="607.37" width="3.25" height="20.23" fill="#eba31a"/>
<rect x="101.11" y="555.72" width="3.25" height="71.88" fill="#2d1a86"/>
<text transform="translate(102.59,631.60) rotate(-90)" font-size="4.35" fill="#222" text-anchor="end" stroke="#222" stroke-width="0.08">CARD11</text>
<rect x="110.60" y="607.37" width="3.25" height="20.23" fill="#eba31a"/>
<rect x="113.85" y="601.63" width="3.25" height="25.97" fill="#2d1a86"/>
<text transform="translate(115.33,631.60) rotate(-90)" font-size="4.35" fill="#222" text-anchor="end" stroke="#222" stroke-width="0.08">TET2</text>
<rect x="123.34" y="607.37" width="3.25" height="20.23" fill="#eba31a"/>
<rect x="126.59" y="582.00" width="3.25" height="45.60" fill="#2d1a86"/>
<text transform="translate(128.07,631.60) rotate(-90)" font-size="4.35" fill="#222" text-anchor="end" stroke="#222" stroke-width="0.08">GATA3</text>
<rect x="136.08" y="607.37" width="3.25" height="20.23" fill="#eba31a"/>
<rect x="139.33" y="597.70" width="3.25" height="29.90" fill="#2d1a86"/>
<text transform="translate(140.81,631.60) rotate(-90)" font-size="4.35" fill="#222" text-anchor="end" stroke="#222" stroke-width="0.08">POT1</text>
<rect x="148.82" y="617.33" width="3.25" height="10.27" fill="#eba31a"/>
<rect x="152.07" y="623.07" width="3.25" height="4.53" fill="#2d1a86"/>
<text transform="translate(153.55,631.60) rotate(-90)" font-size="4.35" fill="#222" text-anchor="end" stroke="#222" stroke-width="0.08">TNFAIP3</text>
<rect x="161.56" y="617.33" width="3.25" height="10.27" fill="#eba31a"/>
<rect x="164.81" y="603.74" width="3.25" height="23.86" fill="#2d1a86"/>
<text transform="translate(166.29,631.60) rotate(-90)" font-size="4.35" fill="#222" text-anchor="end" stroke="#222" stroke-width="0.08">RHOA</text>
<rect x="174.30" y="617.33" width="3.25" height="10.27" fill="#eba31a"/>
<rect x="177.55" y="621.56" width="3.25" height="6.04" fill="#2d1a86"/>
<text transform="translate(179.03,631.60) rotate(-90)" font-size="4.35" fill="#222" text-anchor="end" stroke="#222" stroke-width="0.08">DNMT3A</text>
<rect x="187.04" y="617.33" width="3.25" height="10.27" fill="#eba31a"/>
<rect x="190.29" y="622.47" width="3.25" height="5.13" fill="#2d1a86"/>
<text transform="translate(191.77,631.60) rotate(-90)" font-size="4.35" fill="#222" text-anchor="end" stroke="#222" stroke-width="0.08">CDKN2A</text>
<rect x="199.78" y="617.33" width="3.25" height="10.27" fill="#eba31a"/>
<rect x="203.03" y="620.65" width="3.25" height="6.95" fill="#2d1a86"/>
<text transform="translate(204.51,631.60) rotate(-90)" font-size="4.35" fill="#222" text-anchor="end" stroke="#222" stroke-width="0.08">JAK3</text>
<rect x="212.52" y="617.33" width="3.25" height="10.27" fill="#eba31a"/>
<rect x="215.77" y="619.45" width="3.25" height="8.15" fill="#2d1a86"/>
<text transform="translate(217.25,631.60) rotate(-90)" font-size="4.35" fill="#222" text-anchor="end" stroke="#222" stroke-width="0.08">PIK3CD</text>
<rect x="228.51" y="562.67" width="3.25" height="64.93" fill="#2d1a86"/>
<text transform="translate(229.99,631.60) rotate(-90)" font-size="4.35" fill="#222" text-anchor="end" stroke="#222" stroke-width="0.08">STAT3</text>
<rect x="241.25" y="623.37" width="3.25" height="4.23" fill="#2d1a86"/>
<text transform="translate(242.73,631.60) rotate(-90)" font-size="4.35" fill="#222" text-anchor="end" stroke="#222" stroke-width="0.08">JAK1</text>
<rect x="253.99" y="623.37" width="3.25" height="4.23" fill="#2d1a86"/>
<text transform="translate(255.47,631.60) rotate(-90)" font-size="4.35" fill="#222" text-anchor="end" stroke="#222" stroke-width="0.08">IDH2</text>
<polygon points="62.50,558.70 63.37,560.80 65.64,560.98 63.91,562.46 64.44,564.67 62.50,563.49 60.56,564.67 61.09,562.46 59.36,560.98 61.63,560.80" fill="#000"/>
<polygon points="100.80,547.20 101.67,549.30 103.94,549.48 102.21,550.96 102.74,553.17 100.80,551.99 98.86,553.17 99.39,550.96 97.66,549.48 99.93,549.30" fill="#000"/>
<polygon points="230.10,555.00 230.97,557.10 233.24,557.28 231.51,558.76 232.04,560.97 230.10,559.78 228.16,560.97 228.69,558.76 226.96,557.28 229.23,557.10" fill="#000"/>
<text x="134.8" y="672.6" font-size="5.2" fill="#222" textLength="30.4" lengthAdjust="spacingAndGlyphs" stroke="#222" stroke-width="0.05">Mutated genes</text>
<rect x="80.4" y="677.6" width="4" height="4" fill="#eba31a"/>
<text x="87.7" y="681.6" font-size="5.3" fill="#222" textLength="51.9" lengthAdjust="spacingAndGlyphs" stroke="#222" stroke-width="0.05">North American (n=30)</text>
<rect x="163.9" y="677.6" width="4" height="4" fill="#2d1a86"/>
<text x="171.4" y="681.6" font-size="5.3" fill="#222" textLength="39.6" lengthAdjust="spacingAndGlyphs" stroke="#222" stroke-width="0.05">Japanese (n=370)</text>
<text x="279.2" y="520.9" font-size="10.6" fill="#111">E</text>
<line x1="306.8" y1="523.8" x2="306.8" y2="628.0" stroke="#1a1a1a" stroke-width="1.2"/>
<line x1="306.3" y1="627.5" x2="506.6" y2="627.5" stroke="#1a1a1a" stroke-width="1.1"/>
<text x="303.2" y="528.60" font-size="5.2" fill="#333" text-anchor="end" stroke="#333" stroke-width="0.05">60%</text>
<text x="303.2" y="545.35" font-size="5.2" fill="#333" text-anchor="end" stroke="#333" stroke-width="0.05">50%</text>
<text x="303.2" y="562.10" font-size="5.2" fill="#333" text-anchor="end" stroke="#333" stroke-width="0.05">40%</text>
<text x="303.2" y="578.85" font-size="5.2" fill="#333" text-anchor="end" stroke="#333" stroke-width="0.05">30%</text>
<text x="303.2" y="595.60" font-size="5.2" fill="#333" text-anchor="end" stroke="#333" stroke-width="0.05">20%</text>
<text x="303.2" y="612.35" font-size="5.2" fill="#333" text-anchor="end" stroke="#333" stroke-width="0.05">10%</text>
<text x="303.2" y="629.10" font-size="5.2" fill="#333" text-anchor="end" stroke="#333" stroke-width="0.05">0%</text>
<text transform="translate(287.4,577.5) rotate(-90)" font-size="6.8" fill="#111" text-anchor="middle" stroke="#111" stroke-width="0.05">Frequency (%)</text>
<rect x="310.40" y="532.02" width="3.8" height="95.48" fill="#eba31a"/>
<rect x="314.20" y="589.98" width="3.8" height="37.52" fill="#2d1a86"/>
<text transform="translate(315.90,630.50) rotate(-90)" font-size="5.0" fill="#222" text-anchor="end" stroke="#222" stroke-width="0.05">All epigenetic</text>
<rect x="325.60" y="594.00" width="3.8" height="33.50" fill="#eba31a"/>
<rect x="329.40" y="619.12" width="3.8" height="8.38" fill="#2d1a86"/>
<text transform="translate(331.10,630.50) rotate(-90)" font-size="5.0" fill="#222" text-anchor="end" stroke="#222" stroke-width="0.05">EP300</text>
<rect x="340.80" y="610.75" width="3.8" height="16.75" fill="#eba31a"/>
<text transform="translate(346.30,630.50) rotate(-90)" font-size="5.0" fill="#222" text-anchor="end" stroke="#222" stroke-width="0.05">SPEN</text>
<rect x="356.00" y="616.28" width="3.8" height="11.22" fill="#eba31a"/>
<rect x="359.80" y="625.49" width="3.8" height="2.01" fill="#2d1a86"/>
<text transform="translate(361.50,630.50) rotate(-90)" font-size="5.0" fill="#222" text-anchor="end" stroke="#222" stroke-width="0.05">HIST1H1E</text>
<rect x="371.20" y="616.28" width="3.8" height="11.22" fill="#eba31a"/>
<rect x="375.00" y="608.24" width="3.8" height="19.26" fill="#2d1a86"/>
<text transform="translate(376.70,630.50) rotate(-90)" font-size="5.0" fill="#222" text-anchor="end" stroke="#222" stroke-width="0.05">TET2</text>
<rect x="386.40" y="616.28" width="3.8" height="11.22" fill="#eba31a"/>
<rect x="390.20" y="623.48" width="3.8" height="4.02" fill="#2d1a86"/>
<text transform="translate(391.90,630.50) rotate(-90)" font-size="5.0" fill="#222" text-anchor="end" stroke="#222" stroke-width="0.05">PBRM1</text>
<rect x="401.60" y="621.97" width="3.8" height="5.53" fill="#eba31a"/>
<text transform="translate(407.10,630.50) rotate(-90)" font-size="5.0" fill="#222" text-anchor="end" stroke="#222" stroke-width="0.05">EZH2</text>
<rect x="416.80" y="621.97" width="3.8" height="5.53" fill="#eba31a"/>
<rect x="420.60" y="621.47" width="3.8" height="6.03" fill="#2d1a86"/>
<text transform="translate(422.30,630.50) rotate(-90)" font-size="5.0" fill="#222" text-anchor="end" stroke="#222" stroke-width="0.05">MED12</text>
<rect x="432.00" y="621.97" width="3.8" height="5.53" fill="#eba31a"/>
<rect x="435.80" y="623.48" width="3.8" height="4.02" fill="#2d1a86"/>
<text transform="translate(437.50,630.50) rotate(-90)" font-size="5.0" fill="#222" text-anchor="end" stroke="#222" stroke-width="0.05">DNMT3A</text>
<rect x="447.20" y="621.97" width="3.8" height="5.53" fill="#eba31a"/>
<text transform="translate(452.70,630.50) rotate(-90)" font-size="5.0" fill="#222" text-anchor="end" stroke="#222" stroke-width="0.05">KMT2A</text>
<rect x="462.40" y="621.97" width="3.8" height="5.53" fill="#eba31a"/>
<text transform="translate(467.90,630.50) rotate(-90)" font-size="5.0" fill="#222" text-anchor="end" stroke="#222" stroke-width="0.05">IDH1</text>
<rect x="477.60" y="621.97" width="3.8" height="5.53" fill="#eba31a"/>
<text transform="translate(483.10,630.50) rotate(-90)" font-size="5.0" fill="#222" text-anchor="end" stroke="#222" stroke-width="0.05">ASXL1</text>
<rect x="492.80" y="621.97" width="3.8" height="5.53" fill="#eba31a"/>
<rect x="496.60" y="621.47" width="3.8" height="6.03" fill="#2d1a86"/>
<text transform="translate(498.30,630.50) rotate(-90)" font-size="5.0" fill="#222" text-anchor="end" stroke="#222" stroke-width="0.05">SMARCB1</text>
<polygon points="314.30,524.50 315.17,526.60 317.44,526.78 315.71,528.26 316.24,530.47 314.30,529.28 312.36,530.47 312.89,528.26 311.16,526.78 313.43,526.60" fill="#000"/>
<polygon points="329.80,585.60 330.67,587.70 332.94,587.88 331.21,589.36 331.74,591.57 329.80,590.38 327.86,591.57 328.39,589.36 326.66,587.88 328.93,587.70" fill="#000"/>
<polygon points="345.00,602.30 345.87,604.40 348.14,604.58 346.41,606.06 346.94,608.27 345.00,607.09 343.06,608.27 343.59,606.06 341.86,604.58 344.13,604.40" fill="#000"/>
<text x="397.9" y="672.8" font-size="5.2" fill="#222" textLength="34.5" lengthAdjust="spacingAndGlyphs" stroke="#222" stroke-width="0.05">Mutated genes</text>
<rect x="344.8" y="678.2" width="4" height="4" fill="#eba31a"/>
<text x="352.1" y="682.2" font-size="5.3" fill="#222" textLength="54.7" lengthAdjust="spacingAndGlyphs" stroke="#222" stroke-width="0.05">North American (n = 30)</text>
<rect x="428.9" y="678.2" width="4" height="4" fill="#2d1a86"/>
<text x="436.1" y="682.2" font-size="5.3" fill="#222" textLength="39.9" lengthAdjust="spacingAndGlyphs" stroke="#222" stroke-width="0.05">Japanese (n = 81)</text>
<rect x="0.5" y="0.5" width="518.8" height="688.6" fill="none" stroke="#111" stroke-width="1.2"/>
</svg></body></html>
